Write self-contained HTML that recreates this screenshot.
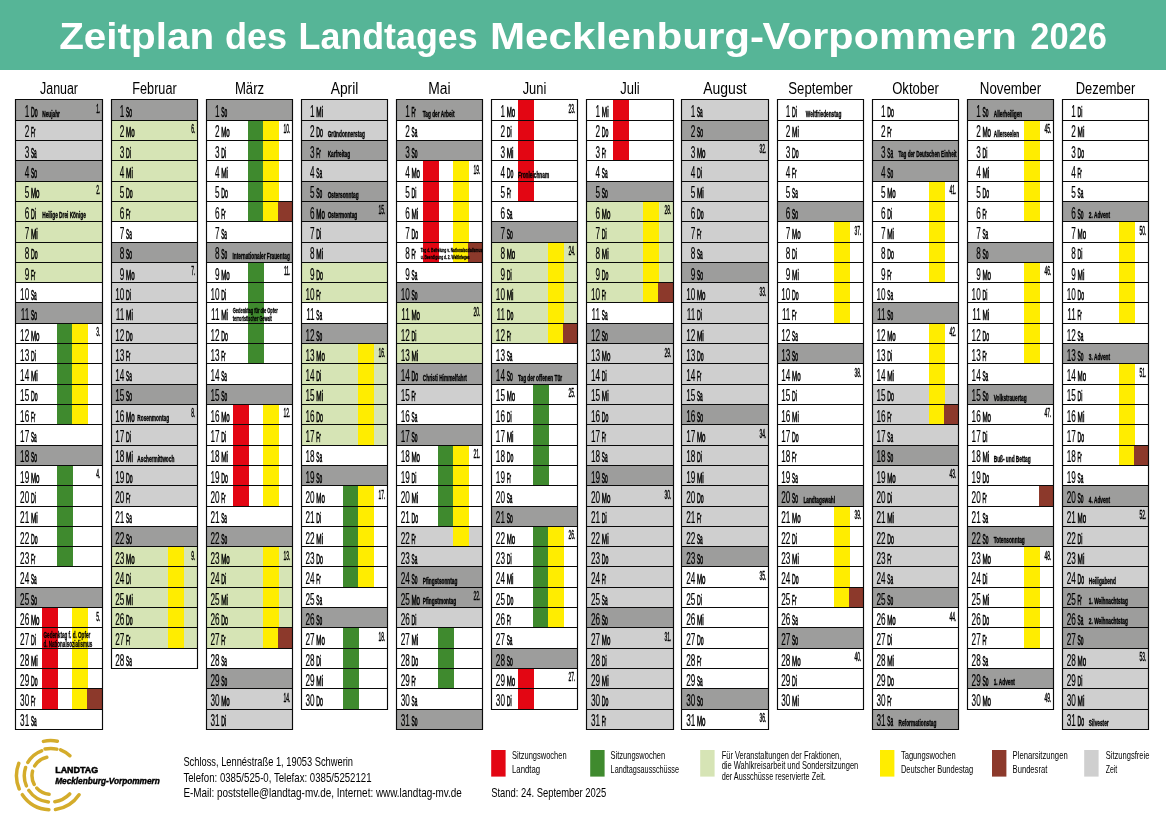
<!DOCTYPE html>
<html lang="de"><head><meta charset="utf-8"><title>Zeitplan des Landtages Mecklenburg-Vorpommern 2026</title>
<style>html,body{margin:0;padding:0;background:#fff}.ns text{vector-effect:non-scaling-stroke}body{width:1166px;height:827px;overflow:hidden}</style></head>
<body>
<svg width="1166" height="827" viewBox="0 0 1166 827" style="display:block;font-family:'Liberation Sans',sans-serif">
<rect x="0" y="0" width="1166" height="827" fill="#fff"/>
<rect x="0" y="0" width="1166" height="70" fill="#56b597"/>
<text y="49" font-size="36" font-weight="bold" fill="#fff"><tspan x="59.2" textLength="154.9" lengthAdjust="spacingAndGlyphs">Zeitplan</tspan> <tspan x="225.0" textLength="62.1" lengthAdjust="spacingAndGlyphs">des</tspan> <tspan x="298.6" textLength="179.0" lengthAdjust="spacingAndGlyphs">Landtages</tspan> <tspan x="490.0" textLength="274.1" lengthAdjust="spacingAndGlyphs">Mecklenburg-</tspan><tspan x="762.5" textLength="254.3" lengthAdjust="spacingAndGlyphs">Vorpommern</tspan> <tspan x="1030.3" textLength="76.6" lengthAdjust="spacingAndGlyphs">2026</tspan></text>
<text x="40.00" y="94" font-size="16" textLength="38.0" lengthAdjust="spacingAndGlyphs">Januar</text>
<rect x="15.5" y="99.5" width="87.0" height="21.0" fill="#9d9d9c"/>
<rect x="15.5" y="120.5" width="87.0" height="20.0" fill="#cfcfcf"/>
<rect x="15.5" y="140.5" width="87.0" height="20.0" fill="#cfcfcf"/>
<rect x="15.5" y="160.5" width="87.0" height="21.0" fill="#9d9d9c"/>
<rect x="15.5" y="181.5" width="87.0" height="20.0" fill="#d6e4b5"/>
<rect x="15.5" y="201.5" width="87.0" height="20.0" fill="#d6e4b5"/>
<rect x="15.5" y="221.5" width="87.0" height="21.0" fill="#d6e4b5"/>
<rect x="15.5" y="242.5" width="87.0" height="20.0" fill="#d6e4b5"/>
<rect x="15.5" y="262.5" width="87.0" height="20.0" fill="#d6e4b5"/>
<rect x="15.5" y="302.5" width="87.0" height="21.0" fill="#9d9d9c"/>
<rect x="57" y="323.5" width="16" height="20.0" fill="#3f8a2e"/>
<rect x="72" y="323.5" width="16" height="20.0" fill="#ffed00"/>
<rect x="57" y="343.5" width="16" height="20.0" fill="#3f8a2e"/>
<rect x="72" y="343.5" width="16" height="20.0" fill="#ffed00"/>
<rect x="57" y="363.5" width="16" height="21.0" fill="#3f8a2e"/>
<rect x="72" y="363.5" width="16" height="21.0" fill="#ffed00"/>
<rect x="57" y="384.5" width="16" height="20.0" fill="#3f8a2e"/>
<rect x="72" y="384.5" width="16" height="20.0" fill="#ffed00"/>
<rect x="57" y="404.5" width="16" height="20.0" fill="#3f8a2e"/>
<rect x="72" y="404.5" width="16" height="20.0" fill="#ffed00"/>
<rect x="15.5" y="445.5" width="87.0" height="20.0" fill="#9d9d9c"/>
<rect x="57" y="465.5" width="16" height="20.0" fill="#3f8a2e"/>
<rect x="57" y="485.5" width="16" height="21.0" fill="#3f8a2e"/>
<rect x="57" y="506.5" width="16" height="20.0" fill="#3f8a2e"/>
<rect x="57" y="526.5" width="16" height="20.0" fill="#3f8a2e"/>
<rect x="57" y="546.5" width="16" height="20.0" fill="#3f8a2e"/>
<rect x="15.5" y="587.5" width="87.0" height="20.0" fill="#9d9d9c"/>
<rect x="42" y="607.5" width="16" height="20.0" fill="#e30613"/>
<rect x="72" y="607.5" width="16" height="20.0" fill="#ffed00"/>
<rect x="42" y="627.5" width="16" height="21.0" fill="#e30613"/>
<rect x="72" y="627.5" width="16" height="21.0" fill="#ffed00"/>
<rect x="42" y="648.5" width="16" height="20.0" fill="#e30613"/>
<rect x="72" y="648.5" width="16" height="20.0" fill="#ffed00"/>
<rect x="42" y="668.5" width="16" height="20.0" fill="#e30613"/>
<rect x="72" y="668.5" width="16" height="20.0" fill="#ffed00"/>
<rect x="42" y="688.5" width="16" height="21.0" fill="#e30613"/>
<rect x="72" y="688.5" width="16" height="21.0" fill="#ffed00"/>
<rect x="87" y="688.5" width="15.5" height="21.0" fill="#8c392b"/>
<path d="M15.0 99.5H103.0M15.0 120.5H103.0M15.0 140.5H103.0M15.0 160.5H103.0M15.0 181.5H103.0M15.0 201.5H103.0M15.0 221.5H103.0M15.0 242.5H103.0M15.0 262.5H103.0M15.0 282.5H103.0M15.0 302.5H103.0M15.0 323.5H103.0M15.0 343.5H103.0M15.0 363.5H103.0M15.0 384.5H103.0M15.0 404.5H103.0M15.0 424.5H103.0M15.0 445.5H103.0M15.0 465.5H103.0M15.0 485.5H103.0M15.0 506.5H103.0M15.0 526.5H103.0M15.0 546.5H103.0M15.0 566.5H103.0M15.0 587.5H103.0M15.0 607.5H103.0M15.0 627.5H103.0M15.0 648.5H103.0M15.0 668.5H103.0M15.0 688.5H103.0M15.0 709.5H103.0M15.0 729.5H103.0M15.5 99.0V730.0M102.5 99.0V730.0" stroke="#0a0a0a" stroke-width="1.15" fill="none"/>
<text x="132.30" y="94" font-size="16" textLength="44.4" lengthAdjust="spacingAndGlyphs">Februar</text>
<rect x="111.5" y="99.5" width="86.0" height="21.0" fill="#9d9d9c"/>
<rect x="111.5" y="120.5" width="86.0" height="20.0" fill="#d6e4b5"/>
<rect x="111.5" y="140.5" width="86.0" height="20.0" fill="#d6e4b5"/>
<rect x="111.5" y="160.5" width="86.0" height="21.0" fill="#d6e4b5"/>
<rect x="111.5" y="181.5" width="86.0" height="20.0" fill="#d6e4b5"/>
<rect x="111.5" y="201.5" width="86.0" height="20.0" fill="#d6e4b5"/>
<rect x="111.5" y="242.5" width="86.0" height="20.0" fill="#9d9d9c"/>
<rect x="111.5" y="262.5" width="86.0" height="20.0" fill="#cfcfcf"/>
<rect x="111.5" y="282.5" width="86.0" height="20.0" fill="#cfcfcf"/>
<rect x="111.5" y="302.5" width="86.0" height="21.0" fill="#cfcfcf"/>
<rect x="111.5" y="323.5" width="86.0" height="20.0" fill="#cfcfcf"/>
<rect x="111.5" y="343.5" width="86.0" height="20.0" fill="#cfcfcf"/>
<rect x="111.5" y="363.5" width="86.0" height="21.0" fill="#cfcfcf"/>
<rect x="111.5" y="384.5" width="86.0" height="20.0" fill="#9d9d9c"/>
<rect x="111.5" y="404.5" width="86.0" height="20.0" fill="#cfcfcf"/>
<rect x="111.5" y="424.5" width="86.0" height="21.0" fill="#cfcfcf"/>
<rect x="111.5" y="445.5" width="86.0" height="20.0" fill="#cfcfcf"/>
<rect x="111.5" y="465.5" width="86.0" height="20.0" fill="#cfcfcf"/>
<rect x="111.5" y="485.5" width="86.0" height="21.0" fill="#cfcfcf"/>
<rect x="111.5" y="526.5" width="86.0" height="20.0" fill="#9d9d9c"/>
<rect x="111.5" y="546.5" width="86.0" height="20.0" fill="#d6e4b5"/>
<rect x="168" y="546.5" width="16" height="20.0" fill="#ffed00"/>
<rect x="111.5" y="566.5" width="86.0" height="21.0" fill="#d6e4b5"/>
<rect x="168" y="566.5" width="16" height="21.0" fill="#ffed00"/>
<rect x="111.5" y="587.5" width="86.0" height="20.0" fill="#d6e4b5"/>
<rect x="168" y="587.5" width="16" height="20.0" fill="#ffed00"/>
<rect x="111.5" y="607.5" width="86.0" height="20.0" fill="#d6e4b5"/>
<rect x="168" y="607.5" width="16" height="20.0" fill="#ffed00"/>
<rect x="111.5" y="627.5" width="86.0" height="21.0" fill="#d6e4b5"/>
<rect x="168" y="627.5" width="16" height="21.0" fill="#ffed00"/>
<path d="M111.0 99.5H198.0M111.0 120.5H198.0M111.0 140.5H198.0M111.0 160.5H198.0M111.0 181.5H198.0M111.0 201.5H198.0M111.0 221.5H198.0M111.0 242.5H198.0M111.0 262.5H198.0M111.0 282.5H198.0M111.0 302.5H198.0M111.0 323.5H198.0M111.0 343.5H198.0M111.0 363.5H198.0M111.0 384.5H198.0M111.0 404.5H198.0M111.0 424.5H198.0M111.0 445.5H198.0M111.0 465.5H198.0M111.0 485.5H198.0M111.0 506.5H198.0M111.0 526.5H198.0M111.0 546.5H198.0M111.0 566.5H198.0M111.0 587.5H198.0M111.0 607.5H198.0M111.0 627.5H198.0M111.0 648.5H198.0M111.0 668.5H198.0M111.5 99.0V669.0M197.5 99.0V669.0" stroke="#0a0a0a" stroke-width="1.15" fill="none"/>
<text x="234.90" y="94" font-size="16" textLength="29.2" lengthAdjust="spacingAndGlyphs">März</text>
<rect x="206.5" y="99.5" width="86.0" height="21.0" fill="#9d9d9c"/>
<rect x="248" y="120.5" width="16" height="20.0" fill="#3f8a2e"/>
<rect x="263" y="120.5" width="16" height="20.0" fill="#ffed00"/>
<rect x="248" y="140.5" width="16" height="20.0" fill="#3f8a2e"/>
<rect x="263" y="140.5" width="16" height="20.0" fill="#ffed00"/>
<rect x="248" y="160.5" width="16" height="21.0" fill="#3f8a2e"/>
<rect x="263" y="160.5" width="16" height="21.0" fill="#ffed00"/>
<rect x="248" y="181.5" width="16" height="20.0" fill="#3f8a2e"/>
<rect x="263" y="181.5" width="16" height="20.0" fill="#ffed00"/>
<rect x="248" y="201.5" width="16" height="20.0" fill="#3f8a2e"/>
<rect x="263" y="201.5" width="16" height="20.0" fill="#ffed00"/>
<rect x="278" y="201.5" width="14.5" height="20.0" fill="#8c392b"/>
<rect x="206.5" y="242.5" width="86.0" height="20.0" fill="#9d9d9c"/>
<rect x="248" y="262.5" width="16" height="20.0" fill="#3f8a2e"/>
<rect x="248" y="282.5" width="16" height="20.0" fill="#3f8a2e"/>
<rect x="248" y="302.5" width="16" height="21.0" fill="#3f8a2e"/>
<rect x="248" y="323.5" width="16" height="20.0" fill="#3f8a2e"/>
<rect x="248" y="343.5" width="16" height="20.0" fill="#3f8a2e"/>
<rect x="206.5" y="384.5" width="86.0" height="20.0" fill="#9d9d9c"/>
<rect x="233" y="404.5" width="16" height="20.0" fill="#e30613"/>
<rect x="263" y="404.5" width="16" height="20.0" fill="#ffed00"/>
<rect x="233" y="424.5" width="16" height="21.0" fill="#e30613"/>
<rect x="263" y="424.5" width="16" height="21.0" fill="#ffed00"/>
<rect x="233" y="445.5" width="16" height="20.0" fill="#e30613"/>
<rect x="263" y="445.5" width="16" height="20.0" fill="#ffed00"/>
<rect x="233" y="465.5" width="16" height="20.0" fill="#e30613"/>
<rect x="263" y="465.5" width="16" height="20.0" fill="#ffed00"/>
<rect x="233" y="485.5" width="16" height="21.0" fill="#e30613"/>
<rect x="263" y="485.5" width="16" height="21.0" fill="#ffed00"/>
<rect x="206.5" y="526.5" width="86.0" height="20.0" fill="#9d9d9c"/>
<rect x="206.5" y="546.5" width="86.0" height="20.0" fill="#d6e4b5"/>
<rect x="263" y="546.5" width="16" height="20.0" fill="#ffed00"/>
<rect x="206.5" y="566.5" width="86.0" height="21.0" fill="#d6e4b5"/>
<rect x="263" y="566.5" width="16" height="21.0" fill="#ffed00"/>
<rect x="206.5" y="587.5" width="86.0" height="20.0" fill="#d6e4b5"/>
<rect x="263" y="587.5" width="16" height="20.0" fill="#ffed00"/>
<rect x="206.5" y="607.5" width="86.0" height="20.0" fill="#d6e4b5"/>
<rect x="263" y="607.5" width="16" height="20.0" fill="#ffed00"/>
<rect x="206.5" y="627.5" width="86.0" height="21.0" fill="#d6e4b5"/>
<rect x="263" y="627.5" width="16" height="21.0" fill="#ffed00"/>
<rect x="278" y="627.5" width="14.5" height="21.0" fill="#8c392b"/>
<rect x="206.5" y="668.5" width="86.0" height="20.0" fill="#9d9d9c"/>
<rect x="206.5" y="688.5" width="86.0" height="21.0" fill="#cfcfcf"/>
<rect x="206.5" y="709.5" width="86.0" height="20.0" fill="#cfcfcf"/>
<path d="M206.0 99.5H293.0M206.0 120.5H293.0M206.0 140.5H293.0M206.0 160.5H293.0M206.0 181.5H293.0M206.0 201.5H293.0M206.0 221.5H293.0M206.0 242.5H293.0M206.0 262.5H293.0M206.0 282.5H293.0M206.0 302.5H293.0M206.0 323.5H293.0M206.0 343.5H293.0M206.0 363.5H293.0M206.0 384.5H293.0M206.0 404.5H293.0M206.0 424.5H293.0M206.0 445.5H293.0M206.0 465.5H293.0M206.0 485.5H293.0M206.0 506.5H293.0M206.0 526.5H293.0M206.0 546.5H293.0M206.0 566.5H293.0M206.0 587.5H293.0M206.0 607.5H293.0M206.0 627.5H293.0M206.0 648.5H293.0M206.0 668.5H293.0M206.0 688.5H293.0M206.0 709.5H293.0M206.0 729.5H293.0M206.5 99.0V730.0M292.5 99.0V730.0" stroke="#0a0a0a" stroke-width="1.15" fill="none"/>
<text x="330.70" y="94" font-size="16" textLength="27.6" lengthAdjust="spacingAndGlyphs">April</text>
<rect x="301.5" y="99.5" width="86.0" height="21.0" fill="#cfcfcf"/>
<rect x="301.5" y="120.5" width="86.0" height="20.0" fill="#cfcfcf"/>
<rect x="301.5" y="140.5" width="86.0" height="20.0" fill="#9d9d9c"/>
<rect x="301.5" y="160.5" width="86.0" height="21.0" fill="#cfcfcf"/>
<rect x="301.5" y="181.5" width="86.0" height="20.0" fill="#9d9d9c"/>
<rect x="301.5" y="201.5" width="86.0" height="20.0" fill="#9d9d9c"/>
<rect x="301.5" y="221.5" width="86.0" height="21.0" fill="#cfcfcf"/>
<rect x="301.5" y="242.5" width="86.0" height="20.0" fill="#cfcfcf"/>
<rect x="301.5" y="262.5" width="86.0" height="20.0" fill="#d6e4b5"/>
<rect x="301.5" y="282.5" width="86.0" height="20.0" fill="#d6e4b5"/>
<rect x="301.5" y="323.5" width="86.0" height="20.0" fill="#9d9d9c"/>
<rect x="301.5" y="343.5" width="86.0" height="20.0" fill="#d6e4b5"/>
<rect x="358" y="343.5" width="16" height="20.0" fill="#ffed00"/>
<rect x="301.5" y="363.5" width="86.0" height="21.0" fill="#d6e4b5"/>
<rect x="358" y="363.5" width="16" height="21.0" fill="#ffed00"/>
<rect x="301.5" y="384.5" width="86.0" height="20.0" fill="#d6e4b5"/>
<rect x="358" y="384.5" width="16" height="20.0" fill="#ffed00"/>
<rect x="301.5" y="404.5" width="86.0" height="20.0" fill="#d6e4b5"/>
<rect x="358" y="404.5" width="16" height="20.0" fill="#ffed00"/>
<rect x="301.5" y="424.5" width="86.0" height="21.0" fill="#d6e4b5"/>
<rect x="358" y="424.5" width="16" height="21.0" fill="#ffed00"/>
<rect x="301.5" y="465.5" width="86.0" height="20.0" fill="#9d9d9c"/>
<rect x="343" y="485.5" width="16" height="21.0" fill="#3f8a2e"/>
<rect x="358" y="485.5" width="16" height="21.0" fill="#ffed00"/>
<rect x="343" y="506.5" width="16" height="20.0" fill="#3f8a2e"/>
<rect x="358" y="506.5" width="16" height="20.0" fill="#ffed00"/>
<rect x="343" y="526.5" width="16" height="20.0" fill="#3f8a2e"/>
<rect x="358" y="526.5" width="16" height="20.0" fill="#ffed00"/>
<rect x="343" y="546.5" width="16" height="20.0" fill="#3f8a2e"/>
<rect x="358" y="546.5" width="16" height="20.0" fill="#ffed00"/>
<rect x="343" y="566.5" width="16" height="21.0" fill="#3f8a2e"/>
<rect x="358" y="566.5" width="16" height="21.0" fill="#ffed00"/>
<rect x="301.5" y="607.5" width="86.0" height="20.0" fill="#9d9d9c"/>
<rect x="343" y="627.5" width="16" height="21.0" fill="#3f8a2e"/>
<rect x="343" y="648.5" width="16" height="20.0" fill="#3f8a2e"/>
<rect x="343" y="668.5" width="16" height="20.0" fill="#3f8a2e"/>
<rect x="343" y="688.5" width="16" height="21.0" fill="#3f8a2e"/>
<path d="M301.0 99.5H388.0M301.0 120.5H388.0M301.0 140.5H388.0M301.0 160.5H388.0M301.0 181.5H388.0M301.0 201.5H388.0M301.0 221.5H388.0M301.0 242.5H388.0M301.0 262.5H388.0M301.0 282.5H388.0M301.0 302.5H388.0M301.0 323.5H388.0M301.0 343.5H388.0M301.0 363.5H388.0M301.0 384.5H388.0M301.0 404.5H388.0M301.0 424.5H388.0M301.0 445.5H388.0M301.0 465.5H388.0M301.0 485.5H388.0M301.0 506.5H388.0M301.0 526.5H388.0M301.0 546.5H388.0M301.0 566.5H388.0M301.0 587.5H388.0M301.0 607.5H388.0M301.0 627.5H388.0M301.0 648.5H388.0M301.0 668.5H388.0M301.0 688.5H388.0M301.0 709.5H388.0M301.5 99.0V710.0M387.5 99.0V710.0" stroke="#0a0a0a" stroke-width="1.15" fill="none"/>
<text x="428.35" y="94" font-size="16" textLength="22.3" lengthAdjust="spacingAndGlyphs">Mai</text>
<rect x="396.5" y="99.5" width="86.0" height="21.0" fill="#9d9d9c"/>
<rect x="396.5" y="140.5" width="86.0" height="20.0" fill="#9d9d9c"/>
<rect x="423" y="160.5" width="16" height="21.0" fill="#e30613"/>
<rect x="453" y="160.5" width="16" height="21.0" fill="#ffed00"/>
<rect x="423" y="181.5" width="16" height="20.0" fill="#e30613"/>
<rect x="453" y="181.5" width="16" height="20.0" fill="#ffed00"/>
<rect x="423" y="201.5" width="16" height="20.0" fill="#e30613"/>
<rect x="453" y="201.5" width="16" height="20.0" fill="#ffed00"/>
<rect x="423" y="221.5" width="16" height="21.0" fill="#e30613"/>
<rect x="453" y="221.5" width="16" height="21.0" fill="#ffed00"/>
<rect x="423" y="242.5" width="16" height="20.0" fill="#e30613"/>
<rect x="453" y="242.5" width="16" height="20.0" fill="#ffed00"/>
<rect x="468" y="242.5" width="14.5" height="20.0" fill="#8c392b"/>
<rect x="396.5" y="282.5" width="86.0" height="20.0" fill="#9d9d9c"/>
<rect x="396.5" y="302.5" width="86.0" height="21.0" fill="#d6e4b5"/>
<rect x="396.5" y="323.5" width="86.0" height="20.0" fill="#d6e4b5"/>
<rect x="396.5" y="343.5" width="86.0" height="20.0" fill="#d6e4b5"/>
<rect x="396.5" y="363.5" width="86.0" height="21.0" fill="#9d9d9c"/>
<rect x="396.5" y="384.5" width="86.0" height="20.0" fill="#cfcfcf"/>
<rect x="396.5" y="424.5" width="86.0" height="21.0" fill="#9d9d9c"/>
<rect x="438" y="445.5" width="16" height="20.0" fill="#3f8a2e"/>
<rect x="453" y="445.5" width="16" height="20.0" fill="#ffed00"/>
<rect x="438" y="465.5" width="16" height="20.0" fill="#3f8a2e"/>
<rect x="453" y="465.5" width="16" height="20.0" fill="#ffed00"/>
<rect x="438" y="485.5" width="16" height="21.0" fill="#3f8a2e"/>
<rect x="453" y="485.5" width="16" height="21.0" fill="#ffed00"/>
<rect x="438" y="506.5" width="16" height="20.0" fill="#3f8a2e"/>
<rect x="453" y="506.5" width="16" height="20.0" fill="#ffed00"/>
<rect x="396.5" y="526.5" width="86.0" height="20.0" fill="#cfcfcf"/>
<rect x="453" y="526.5" width="16" height="20.0" fill="#ffed00"/>
<rect x="396.5" y="546.5" width="86.0" height="20.0" fill="#cfcfcf"/>
<rect x="396.5" y="566.5" width="86.0" height="21.0" fill="#9d9d9c"/>
<rect x="396.5" y="587.5" width="86.0" height="20.0" fill="#9d9d9c"/>
<rect x="396.5" y="607.5" width="86.0" height="20.0" fill="#cfcfcf"/>
<rect x="438" y="627.5" width="16" height="21.0" fill="#3f8a2e"/>
<rect x="438" y="648.5" width="16" height="20.0" fill="#3f8a2e"/>
<rect x="438" y="668.5" width="16" height="20.0" fill="#3f8a2e"/>
<rect x="396.5" y="709.5" width="86.0" height="20.0" fill="#9d9d9c"/>
<path d="M396.0 99.5H483.0M396.0 120.5H483.0M396.0 140.5H483.0M396.0 160.5H483.0M396.0 181.5H483.0M396.0 201.5H483.0M396.0 221.5H483.0M396.0 242.5H483.0M396.0 262.5H483.0M396.0 282.5H483.0M396.0 302.5H483.0M396.0 323.5H483.0M396.0 343.5H483.0M396.0 363.5H483.0M396.0 384.5H483.0M396.0 404.5H483.0M396.0 424.5H483.0M396.0 445.5H483.0M396.0 465.5H483.0M396.0 485.5H483.0M396.0 506.5H483.0M396.0 526.5H483.0M396.0 546.5H483.0M396.0 566.5H483.0M396.0 587.5H483.0M396.0 607.5H483.0M396.0 627.5H483.0M396.0 648.5H483.0M396.0 668.5H483.0M396.0 688.5H483.0M396.0 709.5H483.0M396.0 729.5H483.0M396.5 99.0V730.0M482.5 99.0V730.0" stroke="#0a0a0a" stroke-width="1.15" fill="none"/>
<text x="522.70" y="94" font-size="16" textLength="23.6" lengthAdjust="spacingAndGlyphs">Juni</text>
<rect x="518" y="99.5" width="16" height="21.0" fill="#e30613"/>
<rect x="518" y="120.5" width="16" height="20.0" fill="#e30613"/>
<rect x="518" y="140.5" width="16" height="20.0" fill="#e30613"/>
<rect x="518" y="160.5" width="16" height="21.0" fill="#e30613"/>
<rect x="518" y="181.5" width="16" height="20.0" fill="#e30613"/>
<rect x="491.5" y="221.5" width="86.0" height="21.0" fill="#9d9d9c"/>
<rect x="491.5" y="242.5" width="86.0" height="20.0" fill="#d6e4b5"/>
<rect x="548" y="242.5" width="16" height="20.0" fill="#ffed00"/>
<rect x="491.5" y="262.5" width="86.0" height="20.0" fill="#d6e4b5"/>
<rect x="548" y="262.5" width="16" height="20.0" fill="#ffed00"/>
<rect x="491.5" y="282.5" width="86.0" height="20.0" fill="#d6e4b5"/>
<rect x="548" y="282.5" width="16" height="20.0" fill="#ffed00"/>
<rect x="491.5" y="302.5" width="86.0" height="21.0" fill="#d6e4b5"/>
<rect x="548" y="302.5" width="16" height="21.0" fill="#ffed00"/>
<rect x="491.5" y="323.5" width="86.0" height="20.0" fill="#d6e4b5"/>
<rect x="548" y="323.5" width="16" height="20.0" fill="#ffed00"/>
<rect x="563" y="323.5" width="14.5" height="20.0" fill="#8c392b"/>
<rect x="491.5" y="363.5" width="86.0" height="21.0" fill="#9d9d9c"/>
<rect x="533" y="384.5" width="16" height="20.0" fill="#3f8a2e"/>
<rect x="533" y="404.5" width="16" height="20.0" fill="#3f8a2e"/>
<rect x="533" y="424.5" width="16" height="21.0" fill="#3f8a2e"/>
<rect x="533" y="445.5" width="16" height="20.0" fill="#3f8a2e"/>
<rect x="533" y="465.5" width="16" height="20.0" fill="#3f8a2e"/>
<rect x="491.5" y="506.5" width="86.0" height="20.0" fill="#9d9d9c"/>
<rect x="533" y="526.5" width="16" height="20.0" fill="#3f8a2e"/>
<rect x="548" y="526.5" width="16" height="20.0" fill="#ffed00"/>
<rect x="533" y="546.5" width="16" height="20.0" fill="#3f8a2e"/>
<rect x="548" y="546.5" width="16" height="20.0" fill="#ffed00"/>
<rect x="533" y="566.5" width="16" height="21.0" fill="#3f8a2e"/>
<rect x="548" y="566.5" width="16" height="21.0" fill="#ffed00"/>
<rect x="533" y="587.5" width="16" height="20.0" fill="#3f8a2e"/>
<rect x="548" y="587.5" width="16" height="20.0" fill="#ffed00"/>
<rect x="533" y="607.5" width="16" height="20.0" fill="#3f8a2e"/>
<rect x="548" y="607.5" width="16" height="20.0" fill="#ffed00"/>
<rect x="491.5" y="648.5" width="86.0" height="20.0" fill="#9d9d9c"/>
<rect x="518" y="668.5" width="16" height="20.0" fill="#e30613"/>
<rect x="518" y="688.5" width="16" height="21.0" fill="#e30613"/>
<path d="M491.0 99.5H578.0M491.0 120.5H578.0M491.0 140.5H578.0M491.0 160.5H578.0M491.0 181.5H578.0M491.0 201.5H578.0M491.0 221.5H578.0M491.0 242.5H578.0M491.0 262.5H578.0M491.0 282.5H578.0M491.0 302.5H578.0M491.0 323.5H578.0M491.0 343.5H578.0M491.0 363.5H578.0M491.0 384.5H578.0M491.0 404.5H578.0M491.0 424.5H578.0M491.0 445.5H578.0M491.0 465.5H578.0M491.0 485.5H578.0M491.0 506.5H578.0M491.0 526.5H578.0M491.0 546.5H578.0M491.0 566.5H578.0M491.0 587.5H578.0M491.0 607.5H578.0M491.0 627.5H578.0M491.0 648.5H578.0M491.0 668.5H578.0M491.0 688.5H578.0M491.0 709.5H578.0M491.5 99.0V710.0M577.5 99.0V710.0" stroke="#0a0a0a" stroke-width="1.15" fill="none"/>
<text x="620.25" y="94" font-size="16" textLength="19.5" lengthAdjust="spacingAndGlyphs">Juli</text>
<rect x="613" y="99.5" width="16" height="21.0" fill="#e30613"/>
<rect x="613" y="120.5" width="16" height="20.0" fill="#e30613"/>
<rect x="613" y="140.5" width="16" height="20.0" fill="#e30613"/>
<rect x="586.5" y="181.5" width="87.0" height="20.0" fill="#9d9d9c"/>
<rect x="586.5" y="201.5" width="87.0" height="20.0" fill="#d6e4b5"/>
<rect x="643" y="201.5" width="16" height="20.0" fill="#ffed00"/>
<rect x="586.5" y="221.5" width="87.0" height="21.0" fill="#d6e4b5"/>
<rect x="643" y="221.5" width="16" height="21.0" fill="#ffed00"/>
<rect x="586.5" y="242.5" width="87.0" height="20.0" fill="#d6e4b5"/>
<rect x="643" y="242.5" width="16" height="20.0" fill="#ffed00"/>
<rect x="586.5" y="262.5" width="87.0" height="20.0" fill="#d6e4b5"/>
<rect x="643" y="262.5" width="16" height="20.0" fill="#ffed00"/>
<rect x="586.5" y="282.5" width="87.0" height="20.0" fill="#d6e4b5"/>
<rect x="643" y="282.5" width="16" height="20.0" fill="#ffed00"/>
<rect x="658" y="282.5" width="15.5" height="20.0" fill="#8c392b"/>
<rect x="586.5" y="323.5" width="87.0" height="20.0" fill="#9d9d9c"/>
<rect x="586.5" y="343.5" width="87.0" height="20.0" fill="#cfcfcf"/>
<rect x="586.5" y="363.5" width="87.0" height="21.0" fill="#cfcfcf"/>
<rect x="586.5" y="384.5" width="87.0" height="20.0" fill="#cfcfcf"/>
<rect x="586.5" y="404.5" width="87.0" height="20.0" fill="#cfcfcf"/>
<rect x="586.5" y="424.5" width="87.0" height="21.0" fill="#cfcfcf"/>
<rect x="586.5" y="445.5" width="87.0" height="20.0" fill="#cfcfcf"/>
<rect x="586.5" y="465.5" width="87.0" height="20.0" fill="#9d9d9c"/>
<rect x="586.5" y="485.5" width="87.0" height="21.0" fill="#cfcfcf"/>
<rect x="586.5" y="506.5" width="87.0" height="20.0" fill="#cfcfcf"/>
<rect x="586.5" y="526.5" width="87.0" height="20.0" fill="#cfcfcf"/>
<rect x="586.5" y="546.5" width="87.0" height="20.0" fill="#cfcfcf"/>
<rect x="586.5" y="566.5" width="87.0" height="21.0" fill="#cfcfcf"/>
<rect x="586.5" y="587.5" width="87.0" height="20.0" fill="#cfcfcf"/>
<rect x="586.5" y="607.5" width="87.0" height="20.0" fill="#9d9d9c"/>
<rect x="586.5" y="627.5" width="87.0" height="21.0" fill="#cfcfcf"/>
<rect x="586.5" y="648.5" width="87.0" height="20.0" fill="#cfcfcf"/>
<rect x="586.5" y="668.5" width="87.0" height="20.0" fill="#cfcfcf"/>
<rect x="586.5" y="688.5" width="87.0" height="21.0" fill="#cfcfcf"/>
<rect x="586.5" y="709.5" width="87.0" height="20.0" fill="#cfcfcf"/>
<path d="M586.0 99.5H674.0M586.0 120.5H674.0M586.0 140.5H674.0M586.0 160.5H674.0M586.0 181.5H674.0M586.0 201.5H674.0M586.0 221.5H674.0M586.0 242.5H674.0M586.0 262.5H674.0M586.0 282.5H674.0M586.0 302.5H674.0M586.0 323.5H674.0M586.0 343.5H674.0M586.0 363.5H674.0M586.0 384.5H674.0M586.0 404.5H674.0M586.0 424.5H674.0M586.0 445.5H674.0M586.0 465.5H674.0M586.0 485.5H674.0M586.0 506.5H674.0M586.0 526.5H674.0M586.0 546.5H674.0M586.0 566.5H674.0M586.0 587.5H674.0M586.0 607.5H674.0M586.0 627.5H674.0M586.0 648.5H674.0M586.0 668.5H674.0M586.0 688.5H674.0M586.0 709.5H674.0M586.0 729.5H674.0M586.5 99.0V730.0M673.5 99.0V730.0" stroke="#0a0a0a" stroke-width="1.15" fill="none"/>
<text x="703.25" y="94" font-size="16" textLength="43.5" lengthAdjust="spacingAndGlyphs">August</text>
<rect x="681.5" y="99.5" width="87.0" height="21.0" fill="#cfcfcf"/>
<rect x="681.5" y="120.5" width="87.0" height="20.0" fill="#9d9d9c"/>
<rect x="681.5" y="140.5" width="87.0" height="20.0" fill="#cfcfcf"/>
<rect x="681.5" y="160.5" width="87.0" height="21.0" fill="#cfcfcf"/>
<rect x="681.5" y="181.5" width="87.0" height="20.0" fill="#cfcfcf"/>
<rect x="681.5" y="201.5" width="87.0" height="20.0" fill="#cfcfcf"/>
<rect x="681.5" y="221.5" width="87.0" height="21.0" fill="#cfcfcf"/>
<rect x="681.5" y="242.5" width="87.0" height="20.0" fill="#cfcfcf"/>
<rect x="681.5" y="262.5" width="87.0" height="20.0" fill="#9d9d9c"/>
<rect x="681.5" y="282.5" width="87.0" height="20.0" fill="#cfcfcf"/>
<rect x="681.5" y="302.5" width="87.0" height="21.0" fill="#cfcfcf"/>
<rect x="681.5" y="323.5" width="87.0" height="20.0" fill="#cfcfcf"/>
<rect x="681.5" y="343.5" width="87.0" height="20.0" fill="#cfcfcf"/>
<rect x="681.5" y="363.5" width="87.0" height="21.0" fill="#cfcfcf"/>
<rect x="681.5" y="384.5" width="87.0" height="20.0" fill="#cfcfcf"/>
<rect x="681.5" y="404.5" width="87.0" height="20.0" fill="#9d9d9c"/>
<rect x="681.5" y="424.5" width="87.0" height="21.0" fill="#cfcfcf"/>
<rect x="681.5" y="445.5" width="87.0" height="20.0" fill="#cfcfcf"/>
<rect x="681.5" y="465.5" width="87.0" height="20.0" fill="#cfcfcf"/>
<rect x="681.5" y="485.5" width="87.0" height="21.0" fill="#cfcfcf"/>
<rect x="681.5" y="506.5" width="87.0" height="20.0" fill="#cfcfcf"/>
<rect x="681.5" y="526.5" width="87.0" height="20.0" fill="#cfcfcf"/>
<rect x="681.5" y="546.5" width="87.0" height="20.0" fill="#9d9d9c"/>
<rect x="681.5" y="688.5" width="87.0" height="21.0" fill="#9d9d9c"/>
<path d="M681.0 99.5H769.0M681.0 120.5H769.0M681.0 140.5H769.0M681.0 160.5H769.0M681.0 181.5H769.0M681.0 201.5H769.0M681.0 221.5H769.0M681.0 242.5H769.0M681.0 262.5H769.0M681.0 282.5H769.0M681.0 302.5H769.0M681.0 323.5H769.0M681.0 343.5H769.0M681.0 363.5H769.0M681.0 384.5H769.0M681.0 404.5H769.0M681.0 424.5H769.0M681.0 445.5H769.0M681.0 465.5H769.0M681.0 485.5H769.0M681.0 506.5H769.0M681.0 526.5H769.0M681.0 546.5H769.0M681.0 566.5H769.0M681.0 587.5H769.0M681.0 607.5H769.0M681.0 627.5H769.0M681.0 648.5H769.0M681.0 668.5H769.0M681.0 688.5H769.0M681.0 709.5H769.0M681.0 729.5H769.0M681.5 99.0V730.0M768.5 99.0V730.0" stroke="#0a0a0a" stroke-width="1.15" fill="none"/>
<text x="788.25" y="94" font-size="16" textLength="64.5" lengthAdjust="spacingAndGlyphs">September</text>
<rect x="777.5" y="201.5" width="86.0" height="20.0" fill="#9d9d9c"/>
<rect x="834" y="221.5" width="16" height="21.0" fill="#ffed00"/>
<rect x="834" y="242.5" width="16" height="20.0" fill="#ffed00"/>
<rect x="834" y="262.5" width="16" height="20.0" fill="#ffed00"/>
<rect x="834" y="282.5" width="16" height="20.0" fill="#ffed00"/>
<rect x="834" y="302.5" width="16" height="21.0" fill="#ffed00"/>
<rect x="777.5" y="343.5" width="86.0" height="20.0" fill="#9d9d9c"/>
<rect x="777.5" y="485.5" width="86.0" height="21.0" fill="#9d9d9c"/>
<rect x="834" y="506.5" width="16" height="20.0" fill="#ffed00"/>
<rect x="834" y="526.5" width="16" height="20.0" fill="#ffed00"/>
<rect x="834" y="546.5" width="16" height="20.0" fill="#ffed00"/>
<rect x="834" y="566.5" width="16" height="21.0" fill="#ffed00"/>
<rect x="834" y="587.5" width="16" height="20.0" fill="#ffed00"/>
<rect x="849" y="587.5" width="14.5" height="20.0" fill="#8c392b"/>
<rect x="777.5" y="627.5" width="86.0" height="21.0" fill="#9d9d9c"/>
<path d="M777.0 99.5H864.0M777.0 120.5H864.0M777.0 140.5H864.0M777.0 160.5H864.0M777.0 181.5H864.0M777.0 201.5H864.0M777.0 221.5H864.0M777.0 242.5H864.0M777.0 262.5H864.0M777.0 282.5H864.0M777.0 302.5H864.0M777.0 323.5H864.0M777.0 343.5H864.0M777.0 363.5H864.0M777.0 384.5H864.0M777.0 404.5H864.0M777.0 424.5H864.0M777.0 445.5H864.0M777.0 465.5H864.0M777.0 485.5H864.0M777.0 506.5H864.0M777.0 526.5H864.0M777.0 546.5H864.0M777.0 566.5H864.0M777.0 587.5H864.0M777.0 607.5H864.0M777.0 627.5H864.0M777.0 648.5H864.0M777.0 668.5H864.0M777.0 688.5H864.0M777.0 709.5H864.0M777.5 99.0V710.0M863.5 99.0V710.0" stroke="#0a0a0a" stroke-width="1.15" fill="none"/>
<text x="892.15" y="94" font-size="16" textLength="46.7" lengthAdjust="spacingAndGlyphs">Oktober</text>
<rect x="872.5" y="140.5" width="86.0" height="20.0" fill="#9d9d9c"/>
<rect x="872.5" y="160.5" width="86.0" height="21.0" fill="#9d9d9c"/>
<rect x="929" y="181.5" width="16" height="20.0" fill="#ffed00"/>
<rect x="929" y="201.5" width="16" height="20.0" fill="#ffed00"/>
<rect x="929" y="221.5" width="16" height="21.0" fill="#ffed00"/>
<rect x="929" y="242.5" width="16" height="20.0" fill="#ffed00"/>
<rect x="929" y="262.5" width="16" height="20.0" fill="#ffed00"/>
<rect x="872.5" y="302.5" width="86.0" height="21.0" fill="#9d9d9c"/>
<rect x="929" y="323.5" width="16" height="20.0" fill="#ffed00"/>
<rect x="929" y="343.5" width="16" height="20.0" fill="#ffed00"/>
<rect x="929" y="363.5" width="16" height="21.0" fill="#ffed00"/>
<rect x="872.5" y="384.5" width="86.0" height="20.0" fill="#cfcfcf"/>
<rect x="929" y="384.5" width="16" height="20.0" fill="#ffed00"/>
<rect x="872.5" y="404.5" width="86.0" height="20.0" fill="#cfcfcf"/>
<rect x="929" y="404.5" width="16" height="20.0" fill="#ffed00"/>
<rect x="944" y="404.5" width="14.5" height="20.0" fill="#8c392b"/>
<rect x="872.5" y="424.5" width="86.0" height="21.0" fill="#cfcfcf"/>
<rect x="872.5" y="445.5" width="86.0" height="20.0" fill="#9d9d9c"/>
<rect x="872.5" y="465.5" width="86.0" height="20.0" fill="#cfcfcf"/>
<rect x="872.5" y="485.5" width="86.0" height="21.0" fill="#cfcfcf"/>
<rect x="872.5" y="506.5" width="86.0" height="20.0" fill="#cfcfcf"/>
<rect x="872.5" y="526.5" width="86.0" height="20.0" fill="#cfcfcf"/>
<rect x="872.5" y="546.5" width="86.0" height="20.0" fill="#cfcfcf"/>
<rect x="872.5" y="566.5" width="86.0" height="21.0" fill="#cfcfcf"/>
<rect x="872.5" y="587.5" width="86.0" height="20.0" fill="#9d9d9c"/>
<rect x="872.5" y="709.5" width="86.0" height="20.0" fill="#9d9d9c"/>
<path d="M872.0 99.5H959.0M872.0 120.5H959.0M872.0 140.5H959.0M872.0 160.5H959.0M872.0 181.5H959.0M872.0 201.5H959.0M872.0 221.5H959.0M872.0 242.5H959.0M872.0 262.5H959.0M872.0 282.5H959.0M872.0 302.5H959.0M872.0 323.5H959.0M872.0 343.5H959.0M872.0 363.5H959.0M872.0 384.5H959.0M872.0 404.5H959.0M872.0 424.5H959.0M872.0 445.5H959.0M872.0 465.5H959.0M872.0 485.5H959.0M872.0 506.5H959.0M872.0 526.5H959.0M872.0 546.5H959.0M872.0 566.5H959.0M872.0 587.5H959.0M872.0 607.5H959.0M872.0 627.5H959.0M872.0 648.5H959.0M872.0 668.5H959.0M872.0 688.5H959.0M872.0 709.5H959.0M872.0 729.5H959.0M872.5 99.0V730.0M958.5 99.0V730.0" stroke="#0a0a0a" stroke-width="1.15" fill="none"/>
<text x="979.80" y="94" font-size="16" textLength="61.4" lengthAdjust="spacingAndGlyphs">November</text>
<rect x="967.5" y="99.5" width="86.0" height="21.0" fill="#9d9d9c"/>
<rect x="1024" y="120.5" width="16" height="20.0" fill="#ffed00"/>
<rect x="1024" y="140.5" width="16" height="20.0" fill="#ffed00"/>
<rect x="1024" y="160.5" width="16" height="21.0" fill="#ffed00"/>
<rect x="1024" y="181.5" width="16" height="20.0" fill="#ffed00"/>
<rect x="1024" y="201.5" width="16" height="20.0" fill="#ffed00"/>
<rect x="967.5" y="242.5" width="86.0" height="20.0" fill="#9d9d9c"/>
<rect x="1024" y="262.5" width="16" height="20.0" fill="#ffed00"/>
<rect x="1024" y="282.5" width="16" height="20.0" fill="#ffed00"/>
<rect x="1024" y="302.5" width="16" height="21.0" fill="#ffed00"/>
<rect x="1024" y="323.5" width="16" height="20.0" fill="#ffed00"/>
<rect x="1024" y="343.5" width="16" height="20.0" fill="#ffed00"/>
<rect x="967.5" y="384.5" width="86.0" height="20.0" fill="#9d9d9c"/>
<rect x="1039" y="485.5" width="14.5" height="21.0" fill="#8c392b"/>
<rect x="967.5" y="526.5" width="86.0" height="20.0" fill="#9d9d9c"/>
<rect x="1024" y="546.5" width="16" height="20.0" fill="#ffed00"/>
<rect x="1024" y="566.5" width="16" height="21.0" fill="#ffed00"/>
<rect x="1024" y="587.5" width="16" height="20.0" fill="#ffed00"/>
<rect x="1024" y="607.5" width="16" height="20.0" fill="#ffed00"/>
<rect x="1024" y="627.5" width="16" height="21.0" fill="#ffed00"/>
<rect x="967.5" y="668.5" width="86.0" height="20.0" fill="#9d9d9c"/>
<path d="M967.0 99.5H1054.0M967.0 120.5H1054.0M967.0 140.5H1054.0M967.0 160.5H1054.0M967.0 181.5H1054.0M967.0 201.5H1054.0M967.0 221.5H1054.0M967.0 242.5H1054.0M967.0 262.5H1054.0M967.0 282.5H1054.0M967.0 302.5H1054.0M967.0 323.5H1054.0M967.0 343.5H1054.0M967.0 363.5H1054.0M967.0 384.5H1054.0M967.0 404.5H1054.0M967.0 424.5H1054.0M967.0 445.5H1054.0M967.0 465.5H1054.0M967.0 485.5H1054.0M967.0 506.5H1054.0M967.0 526.5H1054.0M967.0 546.5H1054.0M967.0 566.5H1054.0M967.0 587.5H1054.0M967.0 607.5H1054.0M967.0 627.5H1054.0M967.0 648.5H1054.0M967.0 668.5H1054.0M967.0 688.5H1054.0M967.0 709.5H1054.0M967.5 99.0V710.0M1053.5 99.0V710.0" stroke="#0a0a0a" stroke-width="1.15" fill="none"/>
<text x="1075.75" y="94" font-size="16" textLength="59.5" lengthAdjust="spacingAndGlyphs">Dezember</text>
<rect x="1062.5" y="201.5" width="86.0" height="20.0" fill="#9d9d9c"/>
<rect x="1119" y="221.5" width="16" height="21.0" fill="#ffed00"/>
<rect x="1119" y="242.5" width="16" height="20.0" fill="#ffed00"/>
<rect x="1119" y="262.5" width="16" height="20.0" fill="#ffed00"/>
<rect x="1119" y="282.5" width="16" height="20.0" fill="#ffed00"/>
<rect x="1119" y="302.5" width="16" height="21.0" fill="#ffed00"/>
<rect x="1062.5" y="343.5" width="86.0" height="20.0" fill="#9d9d9c"/>
<rect x="1119" y="363.5" width="16" height="21.0" fill="#ffed00"/>
<rect x="1119" y="384.5" width="16" height="20.0" fill="#ffed00"/>
<rect x="1119" y="404.5" width="16" height="20.0" fill="#ffed00"/>
<rect x="1119" y="424.5" width="16" height="21.0" fill="#ffed00"/>
<rect x="1119" y="445.5" width="16" height="20.0" fill="#ffed00"/>
<rect x="1134" y="445.5" width="14.5" height="20.0" fill="#8c392b"/>
<rect x="1062.5" y="485.5" width="86.0" height="21.0" fill="#9d9d9c"/>
<rect x="1062.5" y="506.5" width="86.0" height="20.0" fill="#cfcfcf"/>
<rect x="1062.5" y="526.5" width="86.0" height="20.0" fill="#cfcfcf"/>
<rect x="1062.5" y="546.5" width="86.0" height="20.0" fill="#cfcfcf"/>
<rect x="1062.5" y="566.5" width="86.0" height="21.0" fill="#cfcfcf"/>
<rect x="1062.5" y="587.5" width="86.0" height="20.0" fill="#9d9d9c"/>
<rect x="1062.5" y="607.5" width="86.0" height="20.0" fill="#9d9d9c"/>
<rect x="1062.5" y="627.5" width="86.0" height="21.0" fill="#9d9d9c"/>
<rect x="1062.5" y="648.5" width="86.0" height="20.0" fill="#cfcfcf"/>
<rect x="1062.5" y="668.5" width="86.0" height="20.0" fill="#cfcfcf"/>
<rect x="1062.5" y="688.5" width="86.0" height="21.0" fill="#cfcfcf"/>
<rect x="1062.5" y="709.5" width="86.0" height="20.0" fill="#cfcfcf"/>
<path d="M1062.0 99.5H1149.0M1062.0 120.5H1149.0M1062.0 140.5H1149.0M1062.0 160.5H1149.0M1062.0 181.5H1149.0M1062.0 201.5H1149.0M1062.0 221.5H1149.0M1062.0 242.5H1149.0M1062.0 262.5H1149.0M1062.0 282.5H1149.0M1062.0 302.5H1149.0M1062.0 323.5H1149.0M1062.0 343.5H1149.0M1062.0 363.5H1149.0M1062.0 384.5H1149.0M1062.0 404.5H1149.0M1062.0 424.5H1149.0M1062.0 445.5H1149.0M1062.0 465.5H1149.0M1062.0 485.5H1149.0M1062.0 506.5H1149.0M1062.0 526.5H1149.0M1062.0 546.5H1149.0M1062.0 566.5H1149.0M1062.0 587.5H1149.0M1062.0 607.5H1149.0M1062.0 627.5H1149.0M1062.0 648.5H1149.0M1062.0 668.5H1149.0M1062.0 688.5H1149.0M1062.0 709.5H1149.0M1062.0 729.5H1149.0M1062.5 99.0V730.0M1148.5 99.0V730.0" stroke="#0a0a0a" stroke-width="1.15" fill="none"/>
<g class="ns" stroke="#000" stroke-width="0.15">
<text transform="translate(29.20 117.15) scale(0.5 1)" font-size="16.4" text-anchor="end">1</text>
<text transform="translate(29.20 137.46) scale(0.5 1)" font-size="16.4" text-anchor="end">2</text>
<text transform="translate(29.20 157.77) scale(0.5 1)" font-size="16.4" text-anchor="end">3</text>
<text transform="translate(29.20 178.08) scale(0.5 1)" font-size="16.4" text-anchor="end">4</text>
<text transform="translate(29.20 198.39) scale(0.5 1)" font-size="16.4" text-anchor="end">5</text>
<text transform="translate(29.20 218.70) scale(0.5 1)" font-size="16.4" text-anchor="end">6</text>
<text transform="translate(29.20 239.01) scale(0.5 1)" font-size="16.4" text-anchor="end">7</text>
<text transform="translate(29.20 259.32) scale(0.5 1)" font-size="16.4" text-anchor="end">8</text>
<text transform="translate(29.20 279.63) scale(0.5 1)" font-size="16.4" text-anchor="end">9</text>
<text transform="translate(29.20 299.94) scale(0.5 1)" font-size="16.4" text-anchor="end">10</text>
<text transform="translate(29.20 320.25) scale(0.5 1)" font-size="16.4" text-anchor="end">11</text>
<text transform="translate(29.20 340.56) scale(0.5 1)" font-size="16.4" text-anchor="end">12</text>
<text transform="translate(29.20 360.87) scale(0.5 1)" font-size="16.4" text-anchor="end">13</text>
<text transform="translate(29.20 381.18) scale(0.5 1)" font-size="16.4" text-anchor="end">14</text>
<text transform="translate(29.20 401.49) scale(0.5 1)" font-size="16.4" text-anchor="end">15</text>
<text transform="translate(29.20 421.80) scale(0.5 1)" font-size="16.4" text-anchor="end">16</text>
<text transform="translate(29.20 442.11) scale(0.5 1)" font-size="16.4" text-anchor="end">17</text>
<text transform="translate(29.20 462.42) scale(0.5 1)" font-size="16.4" text-anchor="end">18</text>
<text transform="translate(29.20 482.73) scale(0.5 1)" font-size="16.4" text-anchor="end">19</text>
<text transform="translate(29.20 503.04) scale(0.5 1)" font-size="16.4" text-anchor="end">20</text>
<text transform="translate(29.20 523.35) scale(0.5 1)" font-size="16.4" text-anchor="end">21</text>
<text transform="translate(29.20 543.66) scale(0.5 1)" font-size="16.4" text-anchor="end">22</text>
<text transform="translate(29.20 563.97) scale(0.5 1)" font-size="16.4" text-anchor="end">23</text>
<text transform="translate(29.20 584.28) scale(0.5 1)" font-size="16.4" text-anchor="end">24</text>
<text transform="translate(29.20 604.59) scale(0.5 1)" font-size="16.4" text-anchor="end">25</text>
<text transform="translate(29.20 624.90) scale(0.5 1)" font-size="16.4" text-anchor="end">26</text>
<text transform="translate(29.20 645.21) scale(0.5 1)" font-size="16.4" text-anchor="end">27</text>
<text transform="translate(29.20 665.52) scale(0.5 1)" font-size="16.4" text-anchor="end">28</text>
<text transform="translate(29.20 685.83) scale(0.5 1)" font-size="16.4" text-anchor="end">29</text>
<text transform="translate(29.20 706.14) scale(0.5 1)" font-size="16.4" text-anchor="end">30</text>
<text transform="translate(29.20 726.45) scale(0.5 1)" font-size="16.4" text-anchor="end">31</text>
<text transform="translate(124.35 117.15) scale(0.5 1)" font-size="16.4" text-anchor="end">1</text>
<text transform="translate(124.35 137.46) scale(0.5 1)" font-size="16.4" text-anchor="end">2</text>
<text transform="translate(124.35 157.77) scale(0.5 1)" font-size="16.4" text-anchor="end">3</text>
<text transform="translate(124.35 178.08) scale(0.5 1)" font-size="16.4" text-anchor="end">4</text>
<text transform="translate(124.35 198.39) scale(0.5 1)" font-size="16.4" text-anchor="end">5</text>
<text transform="translate(124.35 218.70) scale(0.5 1)" font-size="16.4" text-anchor="end">6</text>
<text transform="translate(124.35 239.01) scale(0.5 1)" font-size="16.4" text-anchor="end">7</text>
<text transform="translate(124.35 259.32) scale(0.5 1)" font-size="16.4" text-anchor="end">8</text>
<text transform="translate(124.35 279.63) scale(0.5 1)" font-size="16.4" text-anchor="end">9</text>
<text transform="translate(124.35 299.94) scale(0.5 1)" font-size="16.4" text-anchor="end">10</text>
<text transform="translate(124.35 320.25) scale(0.5 1)" font-size="16.4" text-anchor="end">11</text>
<text transform="translate(124.35 340.56) scale(0.5 1)" font-size="16.4" text-anchor="end">12</text>
<text transform="translate(124.35 360.87) scale(0.5 1)" font-size="16.4" text-anchor="end">13</text>
<text transform="translate(124.35 381.18) scale(0.5 1)" font-size="16.4" text-anchor="end">14</text>
<text transform="translate(124.35 401.49) scale(0.5 1)" font-size="16.4" text-anchor="end">15</text>
<text transform="translate(124.35 421.80) scale(0.5 1)" font-size="16.4" text-anchor="end">16</text>
<text transform="translate(124.35 442.11) scale(0.5 1)" font-size="16.4" text-anchor="end">17</text>
<text transform="translate(124.35 462.42) scale(0.5 1)" font-size="16.4" text-anchor="end">18</text>
<text transform="translate(124.35 482.73) scale(0.5 1)" font-size="16.4" text-anchor="end">19</text>
<text transform="translate(124.35 503.04) scale(0.5 1)" font-size="16.4" text-anchor="end">20</text>
<text transform="translate(124.35 523.35) scale(0.5 1)" font-size="16.4" text-anchor="end">21</text>
<text transform="translate(124.35 543.66) scale(0.5 1)" font-size="16.4" text-anchor="end">22</text>
<text transform="translate(124.35 563.97) scale(0.5 1)" font-size="16.4" text-anchor="end">23</text>
<text transform="translate(124.35 584.28) scale(0.5 1)" font-size="16.4" text-anchor="end">24</text>
<text transform="translate(124.35 604.59) scale(0.5 1)" font-size="16.4" text-anchor="end">25</text>
<text transform="translate(124.35 624.90) scale(0.5 1)" font-size="16.4" text-anchor="end">26</text>
<text transform="translate(124.35 645.21) scale(0.5 1)" font-size="16.4" text-anchor="end">27</text>
<text transform="translate(124.35 665.52) scale(0.5 1)" font-size="16.4" text-anchor="end">28</text>
<text transform="translate(219.50 117.15) scale(0.5 1)" font-size="16.4" text-anchor="end">1</text>
<text transform="translate(219.50 137.46) scale(0.5 1)" font-size="16.4" text-anchor="end">2</text>
<text transform="translate(219.50 157.77) scale(0.5 1)" font-size="16.4" text-anchor="end">3</text>
<text transform="translate(219.50 178.08) scale(0.5 1)" font-size="16.4" text-anchor="end">4</text>
<text transform="translate(219.50 198.39) scale(0.5 1)" font-size="16.4" text-anchor="end">5</text>
<text transform="translate(219.50 218.70) scale(0.5 1)" font-size="16.4" text-anchor="end">6</text>
<text transform="translate(219.50 239.01) scale(0.5 1)" font-size="16.4" text-anchor="end">7</text>
<text transform="translate(219.50 259.32) scale(0.5 1)" font-size="16.4" text-anchor="end">8</text>
<text transform="translate(219.50 279.63) scale(0.5 1)" font-size="16.4" text-anchor="end">9</text>
<text transform="translate(219.50 299.94) scale(0.5 1)" font-size="16.4" text-anchor="end">10</text>
<text transform="translate(219.50 320.25) scale(0.5 1)" font-size="16.4" text-anchor="end">11</text>
<text transform="translate(219.50 340.56) scale(0.5 1)" font-size="16.4" text-anchor="end">12</text>
<text transform="translate(219.50 360.87) scale(0.5 1)" font-size="16.4" text-anchor="end">13</text>
<text transform="translate(219.50 381.18) scale(0.5 1)" font-size="16.4" text-anchor="end">14</text>
<text transform="translate(219.50 401.49) scale(0.5 1)" font-size="16.4" text-anchor="end">15</text>
<text transform="translate(219.50 421.80) scale(0.5 1)" font-size="16.4" text-anchor="end">16</text>
<text transform="translate(219.50 442.11) scale(0.5 1)" font-size="16.4" text-anchor="end">17</text>
<text transform="translate(219.50 462.42) scale(0.5 1)" font-size="16.4" text-anchor="end">18</text>
<text transform="translate(219.50 482.73) scale(0.5 1)" font-size="16.4" text-anchor="end">19</text>
<text transform="translate(219.50 503.04) scale(0.5 1)" font-size="16.4" text-anchor="end">20</text>
<text transform="translate(219.50 523.35) scale(0.5 1)" font-size="16.4" text-anchor="end">21</text>
<text transform="translate(219.50 543.66) scale(0.5 1)" font-size="16.4" text-anchor="end">22</text>
<text transform="translate(219.50 563.97) scale(0.5 1)" font-size="16.4" text-anchor="end">23</text>
<text transform="translate(219.50 584.28) scale(0.5 1)" font-size="16.4" text-anchor="end">24</text>
<text transform="translate(219.50 604.59) scale(0.5 1)" font-size="16.4" text-anchor="end">25</text>
<text transform="translate(219.50 624.90) scale(0.5 1)" font-size="16.4" text-anchor="end">26</text>
<text transform="translate(219.50 645.21) scale(0.5 1)" font-size="16.4" text-anchor="end">27</text>
<text transform="translate(219.50 665.52) scale(0.5 1)" font-size="16.4" text-anchor="end">28</text>
<text transform="translate(219.50 685.83) scale(0.5 1)" font-size="16.4" text-anchor="end">29</text>
<text transform="translate(219.50 706.14) scale(0.5 1)" font-size="16.4" text-anchor="end">30</text>
<text transform="translate(219.50 726.45) scale(0.5 1)" font-size="16.4" text-anchor="end">31</text>
<text transform="translate(314.65 117.15) scale(0.5 1)" font-size="16.4" text-anchor="end">1</text>
<text transform="translate(314.65 137.46) scale(0.5 1)" font-size="16.4" text-anchor="end">2</text>
<text transform="translate(314.65 157.77) scale(0.5 1)" font-size="16.4" text-anchor="end">3</text>
<text transform="translate(314.65 178.08) scale(0.5 1)" font-size="16.4" text-anchor="end">4</text>
<text transform="translate(314.65 198.39) scale(0.5 1)" font-size="16.4" text-anchor="end">5</text>
<text transform="translate(314.65 218.70) scale(0.5 1)" font-size="16.4" text-anchor="end">6</text>
<text transform="translate(314.65 239.01) scale(0.5 1)" font-size="16.4" text-anchor="end">7</text>
<text transform="translate(314.65 259.32) scale(0.5 1)" font-size="16.4" text-anchor="end">8</text>
<text transform="translate(314.65 279.63) scale(0.5 1)" font-size="16.4" text-anchor="end">9</text>
<text transform="translate(314.65 299.94) scale(0.5 1)" font-size="16.4" text-anchor="end">10</text>
<text transform="translate(314.65 320.25) scale(0.5 1)" font-size="16.4" text-anchor="end">11</text>
<text transform="translate(314.65 340.56) scale(0.5 1)" font-size="16.4" text-anchor="end">12</text>
<text transform="translate(314.65 360.87) scale(0.5 1)" font-size="16.4" text-anchor="end">13</text>
<text transform="translate(314.65 381.18) scale(0.5 1)" font-size="16.4" text-anchor="end">14</text>
<text transform="translate(314.65 401.49) scale(0.5 1)" font-size="16.4" text-anchor="end">15</text>
<text transform="translate(314.65 421.80) scale(0.5 1)" font-size="16.4" text-anchor="end">16</text>
<text transform="translate(314.65 442.11) scale(0.5 1)" font-size="16.4" text-anchor="end">17</text>
<text transform="translate(314.65 462.42) scale(0.5 1)" font-size="16.4" text-anchor="end">18</text>
<text transform="translate(314.65 482.73) scale(0.5 1)" font-size="16.4" text-anchor="end">19</text>
<text transform="translate(314.65 503.04) scale(0.5 1)" font-size="16.4" text-anchor="end">20</text>
<text transform="translate(314.65 523.35) scale(0.5 1)" font-size="16.4" text-anchor="end">21</text>
<text transform="translate(314.65 543.66) scale(0.5 1)" font-size="16.4" text-anchor="end">22</text>
<text transform="translate(314.65 563.97) scale(0.5 1)" font-size="16.4" text-anchor="end">23</text>
<text transform="translate(314.65 584.28) scale(0.5 1)" font-size="16.4" text-anchor="end">24</text>
<text transform="translate(314.65 604.59) scale(0.5 1)" font-size="16.4" text-anchor="end">25</text>
<text transform="translate(314.65 624.90) scale(0.5 1)" font-size="16.4" text-anchor="end">26</text>
<text transform="translate(314.65 645.21) scale(0.5 1)" font-size="16.4" text-anchor="end">27</text>
<text transform="translate(314.65 665.52) scale(0.5 1)" font-size="16.4" text-anchor="end">28</text>
<text transform="translate(314.65 685.83) scale(0.5 1)" font-size="16.4" text-anchor="end">29</text>
<text transform="translate(314.65 706.14) scale(0.5 1)" font-size="16.4" text-anchor="end">30</text>
<text transform="translate(409.80 117.15) scale(0.5 1)" font-size="16.4" text-anchor="end">1</text>
<text transform="translate(409.80 137.46) scale(0.5 1)" font-size="16.4" text-anchor="end">2</text>
<text transform="translate(409.80 157.77) scale(0.5 1)" font-size="16.4" text-anchor="end">3</text>
<text transform="translate(409.80 178.08) scale(0.5 1)" font-size="16.4" text-anchor="end">4</text>
<text transform="translate(409.80 198.39) scale(0.5 1)" font-size="16.4" text-anchor="end">5</text>
<text transform="translate(409.80 218.70) scale(0.5 1)" font-size="16.4" text-anchor="end">6</text>
<text transform="translate(409.80 239.01) scale(0.5 1)" font-size="16.4" text-anchor="end">7</text>
<text transform="translate(409.80 259.32) scale(0.5 1)" font-size="16.4" text-anchor="end">8</text>
<text transform="translate(409.80 279.63) scale(0.5 1)" font-size="16.4" text-anchor="end">9</text>
<text transform="translate(409.80 299.94) scale(0.5 1)" font-size="16.4" text-anchor="end">10</text>
<text transform="translate(409.80 320.25) scale(0.5 1)" font-size="16.4" text-anchor="end">11</text>
<text transform="translate(409.80 340.56) scale(0.5 1)" font-size="16.4" text-anchor="end">12</text>
<text transform="translate(409.80 360.87) scale(0.5 1)" font-size="16.4" text-anchor="end">13</text>
<text transform="translate(409.80 381.18) scale(0.5 1)" font-size="16.4" text-anchor="end">14</text>
<text transform="translate(409.80 401.49) scale(0.5 1)" font-size="16.4" text-anchor="end">15</text>
<text transform="translate(409.80 421.80) scale(0.5 1)" font-size="16.4" text-anchor="end">16</text>
<text transform="translate(409.80 442.11) scale(0.5 1)" font-size="16.4" text-anchor="end">17</text>
<text transform="translate(409.80 462.42) scale(0.5 1)" font-size="16.4" text-anchor="end">18</text>
<text transform="translate(409.80 482.73) scale(0.5 1)" font-size="16.4" text-anchor="end">19</text>
<text transform="translate(409.80 503.04) scale(0.5 1)" font-size="16.4" text-anchor="end">20</text>
<text transform="translate(409.80 523.35) scale(0.5 1)" font-size="16.4" text-anchor="end">21</text>
<text transform="translate(409.80 543.66) scale(0.5 1)" font-size="16.4" text-anchor="end">22</text>
<text transform="translate(409.80 563.97) scale(0.5 1)" font-size="16.4" text-anchor="end">23</text>
<text transform="translate(409.80 584.28) scale(0.5 1)" font-size="16.4" text-anchor="end">24</text>
<text transform="translate(409.80 604.59) scale(0.5 1)" font-size="16.4" text-anchor="end">25</text>
<text transform="translate(409.80 624.90) scale(0.5 1)" font-size="16.4" text-anchor="end">26</text>
<text transform="translate(409.80 645.21) scale(0.5 1)" font-size="16.4" text-anchor="end">27</text>
<text transform="translate(409.80 665.52) scale(0.5 1)" font-size="16.4" text-anchor="end">28</text>
<text transform="translate(409.80 685.83) scale(0.5 1)" font-size="16.4" text-anchor="end">29</text>
<text transform="translate(409.80 706.14) scale(0.5 1)" font-size="16.4" text-anchor="end">30</text>
<text transform="translate(409.80 726.45) scale(0.5 1)" font-size="16.4" text-anchor="end">31</text>
<text transform="translate(504.95 117.15) scale(0.5 1)" font-size="16.4" text-anchor="end">1</text>
<text transform="translate(504.95 137.46) scale(0.5 1)" font-size="16.4" text-anchor="end">2</text>
<text transform="translate(504.95 157.77) scale(0.5 1)" font-size="16.4" text-anchor="end">3</text>
<text transform="translate(504.95 178.08) scale(0.5 1)" font-size="16.4" text-anchor="end">4</text>
<text transform="translate(504.95 198.39) scale(0.5 1)" font-size="16.4" text-anchor="end">5</text>
<text transform="translate(504.95 218.70) scale(0.5 1)" font-size="16.4" text-anchor="end">6</text>
<text transform="translate(504.95 239.01) scale(0.5 1)" font-size="16.4" text-anchor="end">7</text>
<text transform="translate(504.95 259.32) scale(0.5 1)" font-size="16.4" text-anchor="end">8</text>
<text transform="translate(504.95 279.63) scale(0.5 1)" font-size="16.4" text-anchor="end">9</text>
<text transform="translate(504.95 299.94) scale(0.5 1)" font-size="16.4" text-anchor="end">10</text>
<text transform="translate(504.95 320.25) scale(0.5 1)" font-size="16.4" text-anchor="end">11</text>
<text transform="translate(504.95 340.56) scale(0.5 1)" font-size="16.4" text-anchor="end">12</text>
<text transform="translate(504.95 360.87) scale(0.5 1)" font-size="16.4" text-anchor="end">13</text>
<text transform="translate(504.95 381.18) scale(0.5 1)" font-size="16.4" text-anchor="end">14</text>
<text transform="translate(504.95 401.49) scale(0.5 1)" font-size="16.4" text-anchor="end">15</text>
<text transform="translate(504.95 421.80) scale(0.5 1)" font-size="16.4" text-anchor="end">16</text>
<text transform="translate(504.95 442.11) scale(0.5 1)" font-size="16.4" text-anchor="end">17</text>
<text transform="translate(504.95 462.42) scale(0.5 1)" font-size="16.4" text-anchor="end">18</text>
<text transform="translate(504.95 482.73) scale(0.5 1)" font-size="16.4" text-anchor="end">19</text>
<text transform="translate(504.95 503.04) scale(0.5 1)" font-size="16.4" text-anchor="end">20</text>
<text transform="translate(504.95 523.35) scale(0.5 1)" font-size="16.4" text-anchor="end">21</text>
<text transform="translate(504.95 543.66) scale(0.5 1)" font-size="16.4" text-anchor="end">22</text>
<text transform="translate(504.95 563.97) scale(0.5 1)" font-size="16.4" text-anchor="end">23</text>
<text transform="translate(504.95 584.28) scale(0.5 1)" font-size="16.4" text-anchor="end">24</text>
<text transform="translate(504.95 604.59) scale(0.5 1)" font-size="16.4" text-anchor="end">25</text>
<text transform="translate(504.95 624.90) scale(0.5 1)" font-size="16.4" text-anchor="end">26</text>
<text transform="translate(504.95 645.21) scale(0.5 1)" font-size="16.4" text-anchor="end">27</text>
<text transform="translate(504.95 665.52) scale(0.5 1)" font-size="16.4" text-anchor="end">28</text>
<text transform="translate(504.95 685.83) scale(0.5 1)" font-size="16.4" text-anchor="end">29</text>
<text transform="translate(504.95 706.14) scale(0.5 1)" font-size="16.4" text-anchor="end">30</text>
<text transform="translate(600.10 117.15) scale(0.5 1)" font-size="16.4" text-anchor="end">1</text>
<text transform="translate(600.10 137.46) scale(0.5 1)" font-size="16.4" text-anchor="end">2</text>
<text transform="translate(600.10 157.77) scale(0.5 1)" font-size="16.4" text-anchor="end">3</text>
<text transform="translate(600.10 178.08) scale(0.5 1)" font-size="16.4" text-anchor="end">4</text>
<text transform="translate(600.10 198.39) scale(0.5 1)" font-size="16.4" text-anchor="end">5</text>
<text transform="translate(600.10 218.70) scale(0.5 1)" font-size="16.4" text-anchor="end">6</text>
<text transform="translate(600.10 239.01) scale(0.5 1)" font-size="16.4" text-anchor="end">7</text>
<text transform="translate(600.10 259.32) scale(0.5 1)" font-size="16.4" text-anchor="end">8</text>
<text transform="translate(600.10 279.63) scale(0.5 1)" font-size="16.4" text-anchor="end">9</text>
<text transform="translate(600.10 299.94) scale(0.5 1)" font-size="16.4" text-anchor="end">10</text>
<text transform="translate(600.10 320.25) scale(0.5 1)" font-size="16.4" text-anchor="end">11</text>
<text transform="translate(600.10 340.56) scale(0.5 1)" font-size="16.4" text-anchor="end">12</text>
<text transform="translate(600.10 360.87) scale(0.5 1)" font-size="16.4" text-anchor="end">13</text>
<text transform="translate(600.10 381.18) scale(0.5 1)" font-size="16.4" text-anchor="end">14</text>
<text transform="translate(600.10 401.49) scale(0.5 1)" font-size="16.4" text-anchor="end">15</text>
<text transform="translate(600.10 421.80) scale(0.5 1)" font-size="16.4" text-anchor="end">16</text>
<text transform="translate(600.10 442.11) scale(0.5 1)" font-size="16.4" text-anchor="end">17</text>
<text transform="translate(600.10 462.42) scale(0.5 1)" font-size="16.4" text-anchor="end">18</text>
<text transform="translate(600.10 482.73) scale(0.5 1)" font-size="16.4" text-anchor="end">19</text>
<text transform="translate(600.10 503.04) scale(0.5 1)" font-size="16.4" text-anchor="end">20</text>
<text transform="translate(600.10 523.35) scale(0.5 1)" font-size="16.4" text-anchor="end">21</text>
<text transform="translate(600.10 543.66) scale(0.5 1)" font-size="16.4" text-anchor="end">22</text>
<text transform="translate(600.10 563.97) scale(0.5 1)" font-size="16.4" text-anchor="end">23</text>
<text transform="translate(600.10 584.28) scale(0.5 1)" font-size="16.4" text-anchor="end">24</text>
<text transform="translate(600.10 604.59) scale(0.5 1)" font-size="16.4" text-anchor="end">25</text>
<text transform="translate(600.10 624.90) scale(0.5 1)" font-size="16.4" text-anchor="end">26</text>
<text transform="translate(600.10 645.21) scale(0.5 1)" font-size="16.4" text-anchor="end">27</text>
<text transform="translate(600.10 665.52) scale(0.5 1)" font-size="16.4" text-anchor="end">28</text>
<text transform="translate(600.10 685.83) scale(0.5 1)" font-size="16.4" text-anchor="end">29</text>
<text transform="translate(600.10 706.14) scale(0.5 1)" font-size="16.4" text-anchor="end">30</text>
<text transform="translate(600.10 726.45) scale(0.5 1)" font-size="16.4" text-anchor="end">31</text>
<text transform="translate(695.25 117.15) scale(0.5 1)" font-size="16.4" text-anchor="end">1</text>
<text transform="translate(695.25 137.46) scale(0.5 1)" font-size="16.4" text-anchor="end">2</text>
<text transform="translate(695.25 157.77) scale(0.5 1)" font-size="16.4" text-anchor="end">3</text>
<text transform="translate(695.25 178.08) scale(0.5 1)" font-size="16.4" text-anchor="end">4</text>
<text transform="translate(695.25 198.39) scale(0.5 1)" font-size="16.4" text-anchor="end">5</text>
<text transform="translate(695.25 218.70) scale(0.5 1)" font-size="16.4" text-anchor="end">6</text>
<text transform="translate(695.25 239.01) scale(0.5 1)" font-size="16.4" text-anchor="end">7</text>
<text transform="translate(695.25 259.32) scale(0.5 1)" font-size="16.4" text-anchor="end">8</text>
<text transform="translate(695.25 279.63) scale(0.5 1)" font-size="16.4" text-anchor="end">9</text>
<text transform="translate(695.25 299.94) scale(0.5 1)" font-size="16.4" text-anchor="end">10</text>
<text transform="translate(695.25 320.25) scale(0.5 1)" font-size="16.4" text-anchor="end">11</text>
<text transform="translate(695.25 340.56) scale(0.5 1)" font-size="16.4" text-anchor="end">12</text>
<text transform="translate(695.25 360.87) scale(0.5 1)" font-size="16.4" text-anchor="end">13</text>
<text transform="translate(695.25 381.18) scale(0.5 1)" font-size="16.4" text-anchor="end">14</text>
<text transform="translate(695.25 401.49) scale(0.5 1)" font-size="16.4" text-anchor="end">15</text>
<text transform="translate(695.25 421.80) scale(0.5 1)" font-size="16.4" text-anchor="end">16</text>
<text transform="translate(695.25 442.11) scale(0.5 1)" font-size="16.4" text-anchor="end">17</text>
<text transform="translate(695.25 462.42) scale(0.5 1)" font-size="16.4" text-anchor="end">18</text>
<text transform="translate(695.25 482.73) scale(0.5 1)" font-size="16.4" text-anchor="end">19</text>
<text transform="translate(695.25 503.04) scale(0.5 1)" font-size="16.4" text-anchor="end">20</text>
<text transform="translate(695.25 523.35) scale(0.5 1)" font-size="16.4" text-anchor="end">21</text>
<text transform="translate(695.25 543.66) scale(0.5 1)" font-size="16.4" text-anchor="end">22</text>
<text transform="translate(695.25 563.97) scale(0.5 1)" font-size="16.4" text-anchor="end">23</text>
<text transform="translate(695.25 584.28) scale(0.5 1)" font-size="16.4" text-anchor="end">24</text>
<text transform="translate(695.25 604.59) scale(0.5 1)" font-size="16.4" text-anchor="end">25</text>
<text transform="translate(695.25 624.90) scale(0.5 1)" font-size="16.4" text-anchor="end">26</text>
<text transform="translate(695.25 645.21) scale(0.5 1)" font-size="16.4" text-anchor="end">27</text>
<text transform="translate(695.25 665.52) scale(0.5 1)" font-size="16.4" text-anchor="end">28</text>
<text transform="translate(695.25 685.83) scale(0.5 1)" font-size="16.4" text-anchor="end">29</text>
<text transform="translate(695.25 706.14) scale(0.5 1)" font-size="16.4" text-anchor="end">30</text>
<text transform="translate(695.25 726.45) scale(0.5 1)" font-size="16.4" text-anchor="end">31</text>
<text transform="translate(790.40 117.15) scale(0.5 1)" font-size="16.4" text-anchor="end">1</text>
<text transform="translate(790.40 137.46) scale(0.5 1)" font-size="16.4" text-anchor="end">2</text>
<text transform="translate(790.40 157.77) scale(0.5 1)" font-size="16.4" text-anchor="end">3</text>
<text transform="translate(790.40 178.08) scale(0.5 1)" font-size="16.4" text-anchor="end">4</text>
<text transform="translate(790.40 198.39) scale(0.5 1)" font-size="16.4" text-anchor="end">5</text>
<text transform="translate(790.40 218.70) scale(0.5 1)" font-size="16.4" text-anchor="end">6</text>
<text transform="translate(790.40 239.01) scale(0.5 1)" font-size="16.4" text-anchor="end">7</text>
<text transform="translate(790.40 259.32) scale(0.5 1)" font-size="16.4" text-anchor="end">8</text>
<text transform="translate(790.40 279.63) scale(0.5 1)" font-size="16.4" text-anchor="end">9</text>
<text transform="translate(790.40 299.94) scale(0.5 1)" font-size="16.4" text-anchor="end">10</text>
<text transform="translate(790.40 320.25) scale(0.5 1)" font-size="16.4" text-anchor="end">11</text>
<text transform="translate(790.40 340.56) scale(0.5 1)" font-size="16.4" text-anchor="end">12</text>
<text transform="translate(790.40 360.87) scale(0.5 1)" font-size="16.4" text-anchor="end">13</text>
<text transform="translate(790.40 381.18) scale(0.5 1)" font-size="16.4" text-anchor="end">14</text>
<text transform="translate(790.40 401.49) scale(0.5 1)" font-size="16.4" text-anchor="end">15</text>
<text transform="translate(790.40 421.80) scale(0.5 1)" font-size="16.4" text-anchor="end">16</text>
<text transform="translate(790.40 442.11) scale(0.5 1)" font-size="16.4" text-anchor="end">17</text>
<text transform="translate(790.40 462.42) scale(0.5 1)" font-size="16.4" text-anchor="end">18</text>
<text transform="translate(790.40 482.73) scale(0.5 1)" font-size="16.4" text-anchor="end">19</text>
<text transform="translate(790.40 503.04) scale(0.5 1)" font-size="16.4" text-anchor="end">20</text>
<text transform="translate(790.40 523.35) scale(0.5 1)" font-size="16.4" text-anchor="end">21</text>
<text transform="translate(790.40 543.66) scale(0.5 1)" font-size="16.4" text-anchor="end">22</text>
<text transform="translate(790.40 563.97) scale(0.5 1)" font-size="16.4" text-anchor="end">23</text>
<text transform="translate(790.40 584.28) scale(0.5 1)" font-size="16.4" text-anchor="end">24</text>
<text transform="translate(790.40 604.59) scale(0.5 1)" font-size="16.4" text-anchor="end">25</text>
<text transform="translate(790.40 624.90) scale(0.5 1)" font-size="16.4" text-anchor="end">26</text>
<text transform="translate(790.40 645.21) scale(0.5 1)" font-size="16.4" text-anchor="end">27</text>
<text transform="translate(790.40 665.52) scale(0.5 1)" font-size="16.4" text-anchor="end">28</text>
<text transform="translate(790.40 685.83) scale(0.5 1)" font-size="16.4" text-anchor="end">29</text>
<text transform="translate(790.40 706.14) scale(0.5 1)" font-size="16.4" text-anchor="end">30</text>
<text transform="translate(885.55 117.15) scale(0.5 1)" font-size="16.4" text-anchor="end">1</text>
<text transform="translate(885.55 137.46) scale(0.5 1)" font-size="16.4" text-anchor="end">2</text>
<text transform="translate(885.55 157.77) scale(0.5 1)" font-size="16.4" text-anchor="end">3</text>
<text transform="translate(885.55 178.08) scale(0.5 1)" font-size="16.4" text-anchor="end">4</text>
<text transform="translate(885.55 198.39) scale(0.5 1)" font-size="16.4" text-anchor="end">5</text>
<text transform="translate(885.55 218.70) scale(0.5 1)" font-size="16.4" text-anchor="end">6</text>
<text transform="translate(885.55 239.01) scale(0.5 1)" font-size="16.4" text-anchor="end">7</text>
<text transform="translate(885.55 259.32) scale(0.5 1)" font-size="16.4" text-anchor="end">8</text>
<text transform="translate(885.55 279.63) scale(0.5 1)" font-size="16.4" text-anchor="end">9</text>
<text transform="translate(885.55 299.94) scale(0.5 1)" font-size="16.4" text-anchor="end">10</text>
<text transform="translate(885.55 320.25) scale(0.5 1)" font-size="16.4" text-anchor="end">11</text>
<text transform="translate(885.55 340.56) scale(0.5 1)" font-size="16.4" text-anchor="end">12</text>
<text transform="translate(885.55 360.87) scale(0.5 1)" font-size="16.4" text-anchor="end">13</text>
<text transform="translate(885.55 381.18) scale(0.5 1)" font-size="16.4" text-anchor="end">14</text>
<text transform="translate(885.55 401.49) scale(0.5 1)" font-size="16.4" text-anchor="end">15</text>
<text transform="translate(885.55 421.80) scale(0.5 1)" font-size="16.4" text-anchor="end">16</text>
<text transform="translate(885.55 442.11) scale(0.5 1)" font-size="16.4" text-anchor="end">17</text>
<text transform="translate(885.55 462.42) scale(0.5 1)" font-size="16.4" text-anchor="end">18</text>
<text transform="translate(885.55 482.73) scale(0.5 1)" font-size="16.4" text-anchor="end">19</text>
<text transform="translate(885.55 503.04) scale(0.5 1)" font-size="16.4" text-anchor="end">20</text>
<text transform="translate(885.55 523.35) scale(0.5 1)" font-size="16.4" text-anchor="end">21</text>
<text transform="translate(885.55 543.66) scale(0.5 1)" font-size="16.4" text-anchor="end">22</text>
<text transform="translate(885.55 563.97) scale(0.5 1)" font-size="16.4" text-anchor="end">23</text>
<text transform="translate(885.55 584.28) scale(0.5 1)" font-size="16.4" text-anchor="end">24</text>
<text transform="translate(885.55 604.59) scale(0.5 1)" font-size="16.4" text-anchor="end">25</text>
<text transform="translate(885.55 624.90) scale(0.5 1)" font-size="16.4" text-anchor="end">26</text>
<text transform="translate(885.55 645.21) scale(0.5 1)" font-size="16.4" text-anchor="end">27</text>
<text transform="translate(885.55 665.52) scale(0.5 1)" font-size="16.4" text-anchor="end">28</text>
<text transform="translate(885.55 685.83) scale(0.5 1)" font-size="16.4" text-anchor="end">29</text>
<text transform="translate(885.55 706.14) scale(0.5 1)" font-size="16.4" text-anchor="end">30</text>
<text transform="translate(885.55 726.45) scale(0.5 1)" font-size="16.4" text-anchor="end">31</text>
<text transform="translate(980.70 117.15) scale(0.5 1)" font-size="16.4" text-anchor="end">1</text>
<text transform="translate(980.70 137.46) scale(0.5 1)" font-size="16.4" text-anchor="end">2</text>
<text transform="translate(980.70 157.77) scale(0.5 1)" font-size="16.4" text-anchor="end">3</text>
<text transform="translate(980.70 178.08) scale(0.5 1)" font-size="16.4" text-anchor="end">4</text>
<text transform="translate(980.70 198.39) scale(0.5 1)" font-size="16.4" text-anchor="end">5</text>
<text transform="translate(980.70 218.70) scale(0.5 1)" font-size="16.4" text-anchor="end">6</text>
<text transform="translate(980.70 239.01) scale(0.5 1)" font-size="16.4" text-anchor="end">7</text>
<text transform="translate(980.70 259.32) scale(0.5 1)" font-size="16.4" text-anchor="end">8</text>
<text transform="translate(980.70 279.63) scale(0.5 1)" font-size="16.4" text-anchor="end">9</text>
<text transform="translate(980.70 299.94) scale(0.5 1)" font-size="16.4" text-anchor="end">10</text>
<text transform="translate(980.70 320.25) scale(0.5 1)" font-size="16.4" text-anchor="end">11</text>
<text transform="translate(980.70 340.56) scale(0.5 1)" font-size="16.4" text-anchor="end">12</text>
<text transform="translate(980.70 360.87) scale(0.5 1)" font-size="16.4" text-anchor="end">13</text>
<text transform="translate(980.70 381.18) scale(0.5 1)" font-size="16.4" text-anchor="end">14</text>
<text transform="translate(980.70 401.49) scale(0.5 1)" font-size="16.4" text-anchor="end">15</text>
<text transform="translate(980.70 421.80) scale(0.5 1)" font-size="16.4" text-anchor="end">16</text>
<text transform="translate(980.70 442.11) scale(0.5 1)" font-size="16.4" text-anchor="end">17</text>
<text transform="translate(980.70 462.42) scale(0.5 1)" font-size="16.4" text-anchor="end">18</text>
<text transform="translate(980.70 482.73) scale(0.5 1)" font-size="16.4" text-anchor="end">19</text>
<text transform="translate(980.70 503.04) scale(0.5 1)" font-size="16.4" text-anchor="end">20</text>
<text transform="translate(980.70 523.35) scale(0.5 1)" font-size="16.4" text-anchor="end">21</text>
<text transform="translate(980.70 543.66) scale(0.5 1)" font-size="16.4" text-anchor="end">22</text>
<text transform="translate(980.70 563.97) scale(0.5 1)" font-size="16.4" text-anchor="end">23</text>
<text transform="translate(980.70 584.28) scale(0.5 1)" font-size="16.4" text-anchor="end">24</text>
<text transform="translate(980.70 604.59) scale(0.5 1)" font-size="16.4" text-anchor="end">25</text>
<text transform="translate(980.70 624.90) scale(0.5 1)" font-size="16.4" text-anchor="end">26</text>
<text transform="translate(980.70 645.21) scale(0.5 1)" font-size="16.4" text-anchor="end">27</text>
<text transform="translate(980.70 665.52) scale(0.5 1)" font-size="16.4" text-anchor="end">28</text>
<text transform="translate(980.70 685.83) scale(0.5 1)" font-size="16.4" text-anchor="end">29</text>
<text transform="translate(980.70 706.14) scale(0.5 1)" font-size="16.4" text-anchor="end">30</text>
<text transform="translate(1075.85 117.15) scale(0.5 1)" font-size="16.4" text-anchor="end">1</text>
<text transform="translate(1075.85 137.46) scale(0.5 1)" font-size="16.4" text-anchor="end">2</text>
<text transform="translate(1075.85 157.77) scale(0.5 1)" font-size="16.4" text-anchor="end">3</text>
<text transform="translate(1075.85 178.08) scale(0.5 1)" font-size="16.4" text-anchor="end">4</text>
<text transform="translate(1075.85 198.39) scale(0.5 1)" font-size="16.4" text-anchor="end">5</text>
<text transform="translate(1075.85 218.70) scale(0.5 1)" font-size="16.4" text-anchor="end">6</text>
<text transform="translate(1075.85 239.01) scale(0.5 1)" font-size="16.4" text-anchor="end">7</text>
<text transform="translate(1075.85 259.32) scale(0.5 1)" font-size="16.4" text-anchor="end">8</text>
<text transform="translate(1075.85 279.63) scale(0.5 1)" font-size="16.4" text-anchor="end">9</text>
<text transform="translate(1075.85 299.94) scale(0.5 1)" font-size="16.4" text-anchor="end">10</text>
<text transform="translate(1075.85 320.25) scale(0.5 1)" font-size="16.4" text-anchor="end">11</text>
<text transform="translate(1075.85 340.56) scale(0.5 1)" font-size="16.4" text-anchor="end">12</text>
<text transform="translate(1075.85 360.87) scale(0.5 1)" font-size="16.4" text-anchor="end">13</text>
<text transform="translate(1075.85 381.18) scale(0.5 1)" font-size="16.4" text-anchor="end">14</text>
<text transform="translate(1075.85 401.49) scale(0.5 1)" font-size="16.4" text-anchor="end">15</text>
<text transform="translate(1075.85 421.80) scale(0.5 1)" font-size="16.4" text-anchor="end">16</text>
<text transform="translate(1075.85 442.11) scale(0.5 1)" font-size="16.4" text-anchor="end">17</text>
<text transform="translate(1075.85 462.42) scale(0.5 1)" font-size="16.4" text-anchor="end">18</text>
<text transform="translate(1075.85 482.73) scale(0.5 1)" font-size="16.4" text-anchor="end">19</text>
<text transform="translate(1075.85 503.04) scale(0.5 1)" font-size="16.4" text-anchor="end">20</text>
<text transform="translate(1075.85 523.35) scale(0.5 1)" font-size="16.4" text-anchor="end">21</text>
<text transform="translate(1075.85 543.66) scale(0.5 1)" font-size="16.4" text-anchor="end">22</text>
<text transform="translate(1075.85 563.97) scale(0.5 1)" font-size="16.4" text-anchor="end">23</text>
<text transform="translate(1075.85 584.28) scale(0.5 1)" font-size="16.4" text-anchor="end">24</text>
<text transform="translate(1075.85 604.59) scale(0.5 1)" font-size="16.4" text-anchor="end">25</text>
<text transform="translate(1075.85 624.90) scale(0.5 1)" font-size="16.4" text-anchor="end">26</text>
<text transform="translate(1075.85 645.21) scale(0.5 1)" font-size="16.4" text-anchor="end">27</text>
<text transform="translate(1075.85 665.52) scale(0.5 1)" font-size="16.4" text-anchor="end">28</text>
<text transform="translate(1075.85 685.83) scale(0.5 1)" font-size="16.4" text-anchor="end">29</text>
<text transform="translate(1075.85 706.14) scale(0.5 1)" font-size="16.4" text-anchor="end">30</text>
<text transform="translate(1075.85 726.45) scale(0.5 1)" font-size="16.4" text-anchor="end">31</text>
</g>
<g class="ns" stroke="#000" stroke-width="0.55">
<text transform="translate(30.90 117.15) scale(0.37 1)" font-size="14">Do</text>
<text transform="translate(30.90 137.46) scale(0.33 1)" font-size="14">Fr</text>
<text transform="translate(30.90 157.77) scale(0.335 1)" font-size="14">Sa</text>
<text transform="translate(30.90 178.08) scale(0.35 1)" font-size="14">So</text>
<text transform="translate(30.90 198.39) scale(0.44 1)" font-size="14">Mo</text>
<text transform="translate(30.90 218.70) scale(0.37 1)" font-size="14">Di</text>
<text transform="translate(30.90 239.01) scale(0.46 1)" font-size="14">Mi</text>
<text transform="translate(30.90 259.32) scale(0.37 1)" font-size="14">Do</text>
<text transform="translate(30.90 279.63) scale(0.33 1)" font-size="14">Fr</text>
<text transform="translate(30.90 299.94) scale(0.335 1)" font-size="14">Sa</text>
<text transform="translate(30.90 320.25) scale(0.35 1)" font-size="14">So</text>
<text transform="translate(30.90 340.56) scale(0.44 1)" font-size="14">Mo</text>
<text transform="translate(30.90 360.87) scale(0.37 1)" font-size="14">Di</text>
<text transform="translate(30.90 381.18) scale(0.46 1)" font-size="14">Mi</text>
<text transform="translate(30.90 401.49) scale(0.37 1)" font-size="14">Do</text>
<text transform="translate(30.90 421.80) scale(0.33 1)" font-size="14">Fr</text>
<text transform="translate(30.90 442.11) scale(0.335 1)" font-size="14">Sa</text>
<text transform="translate(30.90 462.42) scale(0.35 1)" font-size="14">So</text>
<text transform="translate(30.90 482.73) scale(0.44 1)" font-size="14">Mo</text>
<text transform="translate(30.90 503.04) scale(0.37 1)" font-size="14">Di</text>
<text transform="translate(30.90 523.35) scale(0.46 1)" font-size="14">Mi</text>
<text transform="translate(30.90 543.66) scale(0.37 1)" font-size="14">Do</text>
<text transform="translate(30.90 563.97) scale(0.33 1)" font-size="14">Fr</text>
<text transform="translate(30.90 584.28) scale(0.335 1)" font-size="14">Sa</text>
<text transform="translate(30.90 604.59) scale(0.35 1)" font-size="14">So</text>
<text transform="translate(30.90 624.90) scale(0.44 1)" font-size="14">Mo</text>
<text transform="translate(30.90 645.21) scale(0.37 1)" font-size="14">Di</text>
<text transform="translate(30.90 665.52) scale(0.46 1)" font-size="14">Mi</text>
<text transform="translate(30.90 685.83) scale(0.37 1)" font-size="14">Do</text>
<text transform="translate(30.90 706.14) scale(0.33 1)" font-size="14">Fr</text>
<text transform="translate(30.90 726.45) scale(0.335 1)" font-size="14">Sa</text>
<text transform="translate(126.05 117.15) scale(0.35 1)" font-size="14">So</text>
<text transform="translate(126.05 137.46) scale(0.44 1)" font-size="14">Mo</text>
<text transform="translate(126.05 157.77) scale(0.37 1)" font-size="14">Di</text>
<text transform="translate(126.05 178.08) scale(0.46 1)" font-size="14">Mi</text>
<text transform="translate(126.05 198.39) scale(0.37 1)" font-size="14">Do</text>
<text transform="translate(126.05 218.70) scale(0.33 1)" font-size="14">Fr</text>
<text transform="translate(126.05 239.01) scale(0.335 1)" font-size="14">Sa</text>
<text transform="translate(126.05 259.32) scale(0.35 1)" font-size="14">So</text>
<text transform="translate(126.05 279.63) scale(0.44 1)" font-size="14">Mo</text>
<text transform="translate(126.05 299.94) scale(0.37 1)" font-size="14">Di</text>
<text transform="translate(126.05 320.25) scale(0.46 1)" font-size="14">Mi</text>
<text transform="translate(126.05 340.56) scale(0.37 1)" font-size="14">Do</text>
<text transform="translate(126.05 360.87) scale(0.33 1)" font-size="14">Fr</text>
<text transform="translate(126.05 381.18) scale(0.335 1)" font-size="14">Sa</text>
<text transform="translate(126.05 401.49) scale(0.35 1)" font-size="14">So</text>
<text transform="translate(126.05 421.80) scale(0.44 1)" font-size="14">Mo</text>
<text transform="translate(126.05 442.11) scale(0.37 1)" font-size="14">Di</text>
<text transform="translate(126.05 462.42) scale(0.46 1)" font-size="14">Mi</text>
<text transform="translate(126.05 482.73) scale(0.37 1)" font-size="14">Do</text>
<text transform="translate(126.05 503.04) scale(0.33 1)" font-size="14">Fr</text>
<text transform="translate(126.05 523.35) scale(0.335 1)" font-size="14">Sa</text>
<text transform="translate(126.05 543.66) scale(0.35 1)" font-size="14">So</text>
<text transform="translate(126.05 563.97) scale(0.44 1)" font-size="14">Mo</text>
<text transform="translate(126.05 584.28) scale(0.37 1)" font-size="14">Di</text>
<text transform="translate(126.05 604.59) scale(0.46 1)" font-size="14">Mi</text>
<text transform="translate(126.05 624.90) scale(0.37 1)" font-size="14">Do</text>
<text transform="translate(126.05 645.21) scale(0.33 1)" font-size="14">Fr</text>
<text transform="translate(126.05 665.52) scale(0.335 1)" font-size="14">Sa</text>
<text transform="translate(221.20 117.15) scale(0.35 1)" font-size="14">So</text>
<text transform="translate(221.20 137.46) scale(0.44 1)" font-size="14">Mo</text>
<text transform="translate(221.20 157.77) scale(0.37 1)" font-size="14">Di</text>
<text transform="translate(221.20 178.08) scale(0.46 1)" font-size="14">Mi</text>
<text transform="translate(221.20 198.39) scale(0.37 1)" font-size="14">Do</text>
<text transform="translate(221.20 218.70) scale(0.33 1)" font-size="14">Fr</text>
<text transform="translate(221.20 239.01) scale(0.335 1)" font-size="14">Sa</text>
<text transform="translate(221.20 259.32) scale(0.35 1)" font-size="14">So</text>
<text transform="translate(221.20 279.63) scale(0.44 1)" font-size="14">Mo</text>
<text transform="translate(221.20 299.94) scale(0.37 1)" font-size="14">Di</text>
<text transform="translate(221.20 320.25) scale(0.46 1)" font-size="14">Mi</text>
<text transform="translate(221.20 340.56) scale(0.37 1)" font-size="14">Do</text>
<text transform="translate(221.20 360.87) scale(0.33 1)" font-size="14">Fr</text>
<text transform="translate(221.20 381.18) scale(0.335 1)" font-size="14">Sa</text>
<text transform="translate(221.20 401.49) scale(0.35 1)" font-size="14">So</text>
<text transform="translate(221.20 421.80) scale(0.44 1)" font-size="14">Mo</text>
<text transform="translate(221.20 442.11) scale(0.37 1)" font-size="14">Di</text>
<text transform="translate(221.20 462.42) scale(0.46 1)" font-size="14">Mi</text>
<text transform="translate(221.20 482.73) scale(0.37 1)" font-size="14">Do</text>
<text transform="translate(221.20 503.04) scale(0.33 1)" font-size="14">Fr</text>
<text transform="translate(221.20 523.35) scale(0.335 1)" font-size="14">Sa</text>
<text transform="translate(221.20 543.66) scale(0.35 1)" font-size="14">So</text>
<text transform="translate(221.20 563.97) scale(0.44 1)" font-size="14">Mo</text>
<text transform="translate(221.20 584.28) scale(0.37 1)" font-size="14">Di</text>
<text transform="translate(221.20 604.59) scale(0.46 1)" font-size="14">Mi</text>
<text transform="translate(221.20 624.90) scale(0.37 1)" font-size="14">Do</text>
<text transform="translate(221.20 645.21) scale(0.33 1)" font-size="14">Fr</text>
<text transform="translate(221.20 665.52) scale(0.335 1)" font-size="14">Sa</text>
<text transform="translate(221.20 685.83) scale(0.35 1)" font-size="14">So</text>
<text transform="translate(221.20 706.14) scale(0.44 1)" font-size="14">Mo</text>
<text transform="translate(221.20 726.45) scale(0.37 1)" font-size="14">Di</text>
<text transform="translate(316.35 117.15) scale(0.46 1)" font-size="14">Mi</text>
<text transform="translate(316.35 137.46) scale(0.37 1)" font-size="14">Do</text>
<text transform="translate(316.35 157.77) scale(0.33 1)" font-size="14">Fr</text>
<text transform="translate(316.35 178.08) scale(0.335 1)" font-size="14">Sa</text>
<text transform="translate(316.35 198.39) scale(0.35 1)" font-size="14">So</text>
<text transform="translate(316.35 218.70) scale(0.44 1)" font-size="14">Mo</text>
<text transform="translate(316.35 239.01) scale(0.37 1)" font-size="14">Di</text>
<text transform="translate(316.35 259.32) scale(0.46 1)" font-size="14">Mi</text>
<text transform="translate(316.35 279.63) scale(0.37 1)" font-size="14">Do</text>
<text transform="translate(316.35 299.94) scale(0.33 1)" font-size="14">Fr</text>
<text transform="translate(316.35 320.25) scale(0.335 1)" font-size="14">Sa</text>
<text transform="translate(316.35 340.56) scale(0.35 1)" font-size="14">So</text>
<text transform="translate(316.35 360.87) scale(0.44 1)" font-size="14">Mo</text>
<text transform="translate(316.35 381.18) scale(0.37 1)" font-size="14">Di</text>
<text transform="translate(316.35 401.49) scale(0.46 1)" font-size="14">Mi</text>
<text transform="translate(316.35 421.80) scale(0.37 1)" font-size="14">Do</text>
<text transform="translate(316.35 442.11) scale(0.33 1)" font-size="14">Fr</text>
<text transform="translate(316.35 462.42) scale(0.335 1)" font-size="14">Sa</text>
<text transform="translate(316.35 482.73) scale(0.35 1)" font-size="14">So</text>
<text transform="translate(316.35 503.04) scale(0.44 1)" font-size="14">Mo</text>
<text transform="translate(316.35 523.35) scale(0.37 1)" font-size="14">Di</text>
<text transform="translate(316.35 543.66) scale(0.46 1)" font-size="14">Mi</text>
<text transform="translate(316.35 563.97) scale(0.37 1)" font-size="14">Do</text>
<text transform="translate(316.35 584.28) scale(0.33 1)" font-size="14">Fr</text>
<text transform="translate(316.35 604.59) scale(0.335 1)" font-size="14">Sa</text>
<text transform="translate(316.35 624.90) scale(0.35 1)" font-size="14">So</text>
<text transform="translate(316.35 645.21) scale(0.44 1)" font-size="14">Mo</text>
<text transform="translate(316.35 665.52) scale(0.37 1)" font-size="14">Di</text>
<text transform="translate(316.35 685.83) scale(0.46 1)" font-size="14">Mi</text>
<text transform="translate(316.35 706.14) scale(0.37 1)" font-size="14">Do</text>
<text transform="translate(411.50 117.15) scale(0.33 1)" font-size="14">Fr</text>
<text transform="translate(411.50 137.46) scale(0.335 1)" font-size="14">Sa</text>
<text transform="translate(411.50 157.77) scale(0.35 1)" font-size="14">So</text>
<text transform="translate(411.50 178.08) scale(0.44 1)" font-size="14">Mo</text>
<text transform="translate(411.50 198.39) scale(0.37 1)" font-size="14">Di</text>
<text transform="translate(411.50 218.70) scale(0.46 1)" font-size="14">Mi</text>
<text transform="translate(411.50 239.01) scale(0.37 1)" font-size="14">Do</text>
<text transform="translate(411.50 259.32) scale(0.33 1)" font-size="14">Fr</text>
<text transform="translate(411.50 279.63) scale(0.335 1)" font-size="14">Sa</text>
<text transform="translate(411.50 299.94) scale(0.35 1)" font-size="14">So</text>
<text transform="translate(411.50 320.25) scale(0.44 1)" font-size="14">Mo</text>
<text transform="translate(411.50 340.56) scale(0.37 1)" font-size="14">Di</text>
<text transform="translate(411.50 360.87) scale(0.46 1)" font-size="14">Mi</text>
<text transform="translate(411.50 381.18) scale(0.37 1)" font-size="14">Do</text>
<text transform="translate(411.50 401.49) scale(0.33 1)" font-size="14">Fr</text>
<text transform="translate(411.50 421.80) scale(0.335 1)" font-size="14">Sa</text>
<text transform="translate(411.50 442.11) scale(0.35 1)" font-size="14">So</text>
<text transform="translate(411.50 462.42) scale(0.44 1)" font-size="14">Mo</text>
<text transform="translate(411.50 482.73) scale(0.37 1)" font-size="14">Di</text>
<text transform="translate(411.50 503.04) scale(0.46 1)" font-size="14">Mi</text>
<text transform="translate(411.50 523.35) scale(0.37 1)" font-size="14">Do</text>
<text transform="translate(411.50 543.66) scale(0.33 1)" font-size="14">Fr</text>
<text transform="translate(411.50 563.97) scale(0.335 1)" font-size="14">Sa</text>
<text transform="translate(411.50 584.28) scale(0.35 1)" font-size="14">So</text>
<text transform="translate(411.50 604.59) scale(0.44 1)" font-size="14">Mo</text>
<text transform="translate(411.50 624.90) scale(0.37 1)" font-size="14">Di</text>
<text transform="translate(411.50 645.21) scale(0.46 1)" font-size="14">Mi</text>
<text transform="translate(411.50 665.52) scale(0.37 1)" font-size="14">Do</text>
<text transform="translate(411.50 685.83) scale(0.33 1)" font-size="14">Fr</text>
<text transform="translate(411.50 706.14) scale(0.335 1)" font-size="14">Sa</text>
<text transform="translate(411.50 726.45) scale(0.35 1)" font-size="14">So</text>
<text transform="translate(506.65 117.15) scale(0.44 1)" font-size="14">Mo</text>
<text transform="translate(506.65 137.46) scale(0.37 1)" font-size="14">Di</text>
<text transform="translate(506.65 157.77) scale(0.46 1)" font-size="14">Mi</text>
<text transform="translate(506.65 178.08) scale(0.37 1)" font-size="14">Do</text>
<text transform="translate(506.65 198.39) scale(0.33 1)" font-size="14">Fr</text>
<text transform="translate(506.65 218.70) scale(0.335 1)" font-size="14">Sa</text>
<text transform="translate(506.65 239.01) scale(0.35 1)" font-size="14">So</text>
<text transform="translate(506.65 259.32) scale(0.44 1)" font-size="14">Mo</text>
<text transform="translate(506.65 279.63) scale(0.37 1)" font-size="14">Di</text>
<text transform="translate(506.65 299.94) scale(0.46 1)" font-size="14">Mi</text>
<text transform="translate(506.65 320.25) scale(0.37 1)" font-size="14">Do</text>
<text transform="translate(506.65 340.56) scale(0.33 1)" font-size="14">Fr</text>
<text transform="translate(506.65 360.87) scale(0.335 1)" font-size="14">Sa</text>
<text transform="translate(506.65 381.18) scale(0.35 1)" font-size="14">So</text>
<text transform="translate(506.65 401.49) scale(0.44 1)" font-size="14">Mo</text>
<text transform="translate(506.65 421.80) scale(0.37 1)" font-size="14">Di</text>
<text transform="translate(506.65 442.11) scale(0.46 1)" font-size="14">Mi</text>
<text transform="translate(506.65 462.42) scale(0.37 1)" font-size="14">Do</text>
<text transform="translate(506.65 482.73) scale(0.33 1)" font-size="14">Fr</text>
<text transform="translate(506.65 503.04) scale(0.335 1)" font-size="14">Sa</text>
<text transform="translate(506.65 523.35) scale(0.35 1)" font-size="14">So</text>
<text transform="translate(506.65 543.66) scale(0.44 1)" font-size="14">Mo</text>
<text transform="translate(506.65 563.97) scale(0.37 1)" font-size="14">Di</text>
<text transform="translate(506.65 584.28) scale(0.46 1)" font-size="14">Mi</text>
<text transform="translate(506.65 604.59) scale(0.37 1)" font-size="14">Do</text>
<text transform="translate(506.65 624.90) scale(0.33 1)" font-size="14">Fr</text>
<text transform="translate(506.65 645.21) scale(0.335 1)" font-size="14">Sa</text>
<text transform="translate(506.65 665.52) scale(0.35 1)" font-size="14">So</text>
<text transform="translate(506.65 685.83) scale(0.44 1)" font-size="14">Mo</text>
<text transform="translate(506.65 706.14) scale(0.37 1)" font-size="14">Di</text>
<text transform="translate(601.80 117.15) scale(0.46 1)" font-size="14">Mi</text>
<text transform="translate(601.80 137.46) scale(0.37 1)" font-size="14">Do</text>
<text transform="translate(601.80 157.77) scale(0.33 1)" font-size="14">Fr</text>
<text transform="translate(601.80 178.08) scale(0.335 1)" font-size="14">Sa</text>
<text transform="translate(601.80 198.39) scale(0.35 1)" font-size="14">So</text>
<text transform="translate(601.80 218.70) scale(0.44 1)" font-size="14">Mo</text>
<text transform="translate(601.80 239.01) scale(0.37 1)" font-size="14">Di</text>
<text transform="translate(601.80 259.32) scale(0.46 1)" font-size="14">Mi</text>
<text transform="translate(601.80 279.63) scale(0.37 1)" font-size="14">Do</text>
<text transform="translate(601.80 299.94) scale(0.33 1)" font-size="14">Fr</text>
<text transform="translate(601.80 320.25) scale(0.335 1)" font-size="14">Sa</text>
<text transform="translate(601.80 340.56) scale(0.35 1)" font-size="14">So</text>
<text transform="translate(601.80 360.87) scale(0.44 1)" font-size="14">Mo</text>
<text transform="translate(601.80 381.18) scale(0.37 1)" font-size="14">Di</text>
<text transform="translate(601.80 401.49) scale(0.46 1)" font-size="14">Mi</text>
<text transform="translate(601.80 421.80) scale(0.37 1)" font-size="14">Do</text>
<text transform="translate(601.80 442.11) scale(0.33 1)" font-size="14">Fr</text>
<text transform="translate(601.80 462.42) scale(0.335 1)" font-size="14">Sa</text>
<text transform="translate(601.80 482.73) scale(0.35 1)" font-size="14">So</text>
<text transform="translate(601.80 503.04) scale(0.44 1)" font-size="14">Mo</text>
<text transform="translate(601.80 523.35) scale(0.37 1)" font-size="14">Di</text>
<text transform="translate(601.80 543.66) scale(0.46 1)" font-size="14">Mi</text>
<text transform="translate(601.80 563.97) scale(0.37 1)" font-size="14">Do</text>
<text transform="translate(601.80 584.28) scale(0.33 1)" font-size="14">Fr</text>
<text transform="translate(601.80 604.59) scale(0.335 1)" font-size="14">Sa</text>
<text transform="translate(601.80 624.90) scale(0.35 1)" font-size="14">So</text>
<text transform="translate(601.80 645.21) scale(0.44 1)" font-size="14">Mo</text>
<text transform="translate(601.80 665.52) scale(0.37 1)" font-size="14">Di</text>
<text transform="translate(601.80 685.83) scale(0.46 1)" font-size="14">Mi</text>
<text transform="translate(601.80 706.14) scale(0.37 1)" font-size="14">Do</text>
<text transform="translate(601.80 726.45) scale(0.33 1)" font-size="14">Fr</text>
<text transform="translate(696.95 117.15) scale(0.335 1)" font-size="14">Sa</text>
<text transform="translate(696.95 137.46) scale(0.35 1)" font-size="14">So</text>
<text transform="translate(696.95 157.77) scale(0.44 1)" font-size="14">Mo</text>
<text transform="translate(696.95 178.08) scale(0.37 1)" font-size="14">Di</text>
<text transform="translate(696.95 198.39) scale(0.46 1)" font-size="14">Mi</text>
<text transform="translate(696.95 218.70) scale(0.37 1)" font-size="14">Do</text>
<text transform="translate(696.95 239.01) scale(0.33 1)" font-size="14">Fr</text>
<text transform="translate(696.95 259.32) scale(0.335 1)" font-size="14">Sa</text>
<text transform="translate(696.95 279.63) scale(0.35 1)" font-size="14">So</text>
<text transform="translate(696.95 299.94) scale(0.44 1)" font-size="14">Mo</text>
<text transform="translate(696.95 320.25) scale(0.37 1)" font-size="14">Di</text>
<text transform="translate(696.95 340.56) scale(0.46 1)" font-size="14">Mi</text>
<text transform="translate(696.95 360.87) scale(0.37 1)" font-size="14">Do</text>
<text transform="translate(696.95 381.18) scale(0.33 1)" font-size="14">Fr</text>
<text transform="translate(696.95 401.49) scale(0.335 1)" font-size="14">Sa</text>
<text transform="translate(696.95 421.80) scale(0.35 1)" font-size="14">So</text>
<text transform="translate(696.95 442.11) scale(0.44 1)" font-size="14">Mo</text>
<text transform="translate(696.95 462.42) scale(0.37 1)" font-size="14">Di</text>
<text transform="translate(696.95 482.73) scale(0.46 1)" font-size="14">Mi</text>
<text transform="translate(696.95 503.04) scale(0.37 1)" font-size="14">Do</text>
<text transform="translate(696.95 523.35) scale(0.33 1)" font-size="14">Fr</text>
<text transform="translate(696.95 543.66) scale(0.335 1)" font-size="14">Sa</text>
<text transform="translate(696.95 563.97) scale(0.35 1)" font-size="14">So</text>
<text transform="translate(696.95 584.28) scale(0.44 1)" font-size="14">Mo</text>
<text transform="translate(696.95 604.59) scale(0.37 1)" font-size="14">Di</text>
<text transform="translate(696.95 624.90) scale(0.46 1)" font-size="14">Mi</text>
<text transform="translate(696.95 645.21) scale(0.37 1)" font-size="14">Do</text>
<text transform="translate(696.95 665.52) scale(0.33 1)" font-size="14">Fr</text>
<text transform="translate(696.95 685.83) scale(0.335 1)" font-size="14">Sa</text>
<text transform="translate(696.95 706.14) scale(0.35 1)" font-size="14">So</text>
<text transform="translate(696.95 726.45) scale(0.44 1)" font-size="14">Mo</text>
<text transform="translate(792.10 117.15) scale(0.37 1)" font-size="14">Di</text>
<text transform="translate(792.10 137.46) scale(0.46 1)" font-size="14">Mi</text>
<text transform="translate(792.10 157.77) scale(0.37 1)" font-size="14">Do</text>
<text transform="translate(792.10 178.08) scale(0.33 1)" font-size="14">Fr</text>
<text transform="translate(792.10 198.39) scale(0.335 1)" font-size="14">Sa</text>
<text transform="translate(792.10 218.70) scale(0.35 1)" font-size="14">So</text>
<text transform="translate(792.10 239.01) scale(0.44 1)" font-size="14">Mo</text>
<text transform="translate(792.10 259.32) scale(0.37 1)" font-size="14">Di</text>
<text transform="translate(792.10 279.63) scale(0.46 1)" font-size="14">Mi</text>
<text transform="translate(792.10 299.94) scale(0.37 1)" font-size="14">Do</text>
<text transform="translate(792.10 320.25) scale(0.33 1)" font-size="14">Fr</text>
<text transform="translate(792.10 340.56) scale(0.335 1)" font-size="14">Sa</text>
<text transform="translate(792.10 360.87) scale(0.35 1)" font-size="14">So</text>
<text transform="translate(792.10 381.18) scale(0.44 1)" font-size="14">Mo</text>
<text transform="translate(792.10 401.49) scale(0.37 1)" font-size="14">Di</text>
<text transform="translate(792.10 421.80) scale(0.46 1)" font-size="14">Mi</text>
<text transform="translate(792.10 442.11) scale(0.37 1)" font-size="14">Do</text>
<text transform="translate(792.10 462.42) scale(0.33 1)" font-size="14">Fr</text>
<text transform="translate(792.10 482.73) scale(0.335 1)" font-size="14">Sa</text>
<text transform="translate(792.10 503.04) scale(0.35 1)" font-size="14">So</text>
<text transform="translate(792.10 523.35) scale(0.44 1)" font-size="14">Mo</text>
<text transform="translate(792.10 543.66) scale(0.37 1)" font-size="14">Di</text>
<text transform="translate(792.10 563.97) scale(0.46 1)" font-size="14">Mi</text>
<text transform="translate(792.10 584.28) scale(0.37 1)" font-size="14">Do</text>
<text transform="translate(792.10 604.59) scale(0.33 1)" font-size="14">Fr</text>
<text transform="translate(792.10 624.90) scale(0.335 1)" font-size="14">Sa</text>
<text transform="translate(792.10 645.21) scale(0.35 1)" font-size="14">So</text>
<text transform="translate(792.10 665.52) scale(0.44 1)" font-size="14">Mo</text>
<text transform="translate(792.10 685.83) scale(0.37 1)" font-size="14">Di</text>
<text transform="translate(792.10 706.14) scale(0.46 1)" font-size="14">Mi</text>
<text transform="translate(887.25 117.15) scale(0.37 1)" font-size="14">Do</text>
<text transform="translate(887.25 137.46) scale(0.33 1)" font-size="14">Fr</text>
<text transform="translate(887.25 157.77) scale(0.335 1)" font-size="14">Sa</text>
<text transform="translate(887.25 178.08) scale(0.35 1)" font-size="14">So</text>
<text transform="translate(887.25 198.39) scale(0.44 1)" font-size="14">Mo</text>
<text transform="translate(887.25 218.70) scale(0.37 1)" font-size="14">Di</text>
<text transform="translate(887.25 239.01) scale(0.46 1)" font-size="14">Mi</text>
<text transform="translate(887.25 259.32) scale(0.37 1)" font-size="14">Do</text>
<text transform="translate(887.25 279.63) scale(0.33 1)" font-size="14">Fr</text>
<text transform="translate(887.25 299.94) scale(0.335 1)" font-size="14">Sa</text>
<text transform="translate(887.25 320.25) scale(0.35 1)" font-size="14">So</text>
<text transform="translate(887.25 340.56) scale(0.44 1)" font-size="14">Mo</text>
<text transform="translate(887.25 360.87) scale(0.37 1)" font-size="14">Di</text>
<text transform="translate(887.25 381.18) scale(0.46 1)" font-size="14">Mi</text>
<text transform="translate(887.25 401.49) scale(0.37 1)" font-size="14">Do</text>
<text transform="translate(887.25 421.80) scale(0.33 1)" font-size="14">Fr</text>
<text transform="translate(887.25 442.11) scale(0.335 1)" font-size="14">Sa</text>
<text transform="translate(887.25 462.42) scale(0.35 1)" font-size="14">So</text>
<text transform="translate(887.25 482.73) scale(0.44 1)" font-size="14">Mo</text>
<text transform="translate(887.25 503.04) scale(0.37 1)" font-size="14">Di</text>
<text transform="translate(887.25 523.35) scale(0.46 1)" font-size="14">Mi</text>
<text transform="translate(887.25 543.66) scale(0.37 1)" font-size="14">Do</text>
<text transform="translate(887.25 563.97) scale(0.33 1)" font-size="14">Fr</text>
<text transform="translate(887.25 584.28) scale(0.335 1)" font-size="14">Sa</text>
<text transform="translate(887.25 604.59) scale(0.35 1)" font-size="14">So</text>
<text transform="translate(887.25 624.90) scale(0.44 1)" font-size="14">Mo</text>
<text transform="translate(887.25 645.21) scale(0.37 1)" font-size="14">Di</text>
<text transform="translate(887.25 665.52) scale(0.46 1)" font-size="14">Mi</text>
<text transform="translate(887.25 685.83) scale(0.37 1)" font-size="14">Do</text>
<text transform="translate(887.25 706.14) scale(0.33 1)" font-size="14">Fr</text>
<text transform="translate(887.25 726.45) scale(0.335 1)" font-size="14">Sa</text>
<text transform="translate(982.40 117.15) scale(0.35 1)" font-size="14">So</text>
<text transform="translate(982.40 137.46) scale(0.44 1)" font-size="14">Mo</text>
<text transform="translate(982.40 157.77) scale(0.37 1)" font-size="14">Di</text>
<text transform="translate(982.40 178.08) scale(0.46 1)" font-size="14">Mi</text>
<text transform="translate(982.40 198.39) scale(0.37 1)" font-size="14">Do</text>
<text transform="translate(982.40 218.70) scale(0.33 1)" font-size="14">Fr</text>
<text transform="translate(982.40 239.01) scale(0.335 1)" font-size="14">Sa</text>
<text transform="translate(982.40 259.32) scale(0.35 1)" font-size="14">So</text>
<text transform="translate(982.40 279.63) scale(0.44 1)" font-size="14">Mo</text>
<text transform="translate(982.40 299.94) scale(0.37 1)" font-size="14">Di</text>
<text transform="translate(982.40 320.25) scale(0.46 1)" font-size="14">Mi</text>
<text transform="translate(982.40 340.56) scale(0.37 1)" font-size="14">Do</text>
<text transform="translate(982.40 360.87) scale(0.33 1)" font-size="14">Fr</text>
<text transform="translate(982.40 381.18) scale(0.335 1)" font-size="14">Sa</text>
<text transform="translate(982.40 401.49) scale(0.35 1)" font-size="14">So</text>
<text transform="translate(982.40 421.80) scale(0.44 1)" font-size="14">Mo</text>
<text transform="translate(982.40 442.11) scale(0.37 1)" font-size="14">Di</text>
<text transform="translate(982.40 462.42) scale(0.46 1)" font-size="14">Mi</text>
<text transform="translate(982.40 482.73) scale(0.37 1)" font-size="14">Do</text>
<text transform="translate(982.40 503.04) scale(0.33 1)" font-size="14">Fr</text>
<text transform="translate(982.40 523.35) scale(0.335 1)" font-size="14">Sa</text>
<text transform="translate(982.40 543.66) scale(0.35 1)" font-size="14">So</text>
<text transform="translate(982.40 563.97) scale(0.44 1)" font-size="14">Mo</text>
<text transform="translate(982.40 584.28) scale(0.37 1)" font-size="14">Di</text>
<text transform="translate(982.40 604.59) scale(0.46 1)" font-size="14">Mi</text>
<text transform="translate(982.40 624.90) scale(0.37 1)" font-size="14">Do</text>
<text transform="translate(982.40 645.21) scale(0.33 1)" font-size="14">Fr</text>
<text transform="translate(982.40 665.52) scale(0.335 1)" font-size="14">Sa</text>
<text transform="translate(982.40 685.83) scale(0.35 1)" font-size="14">So</text>
<text transform="translate(982.40 706.14) scale(0.44 1)" font-size="14">Mo</text>
<text transform="translate(1077.55 117.15) scale(0.37 1)" font-size="14">Di</text>
<text transform="translate(1077.55 137.46) scale(0.46 1)" font-size="14">Mi</text>
<text transform="translate(1077.55 157.77) scale(0.37 1)" font-size="14">Do</text>
<text transform="translate(1077.55 178.08) scale(0.33 1)" font-size="14">Fr</text>
<text transform="translate(1077.55 198.39) scale(0.335 1)" font-size="14">Sa</text>
<text transform="translate(1077.55 218.70) scale(0.35 1)" font-size="14">So</text>
<text transform="translate(1077.55 239.01) scale(0.44 1)" font-size="14">Mo</text>
<text transform="translate(1077.55 259.32) scale(0.37 1)" font-size="14">Di</text>
<text transform="translate(1077.55 279.63) scale(0.46 1)" font-size="14">Mi</text>
<text transform="translate(1077.55 299.94) scale(0.37 1)" font-size="14">Do</text>
<text transform="translate(1077.55 320.25) scale(0.33 1)" font-size="14">Fr</text>
<text transform="translate(1077.55 340.56) scale(0.335 1)" font-size="14">Sa</text>
<text transform="translate(1077.55 360.87) scale(0.35 1)" font-size="14">So</text>
<text transform="translate(1077.55 381.18) scale(0.44 1)" font-size="14">Mo</text>
<text transform="translate(1077.55 401.49) scale(0.37 1)" font-size="14">Di</text>
<text transform="translate(1077.55 421.80) scale(0.46 1)" font-size="14">Mi</text>
<text transform="translate(1077.55 442.11) scale(0.37 1)" font-size="14">Do</text>
<text transform="translate(1077.55 462.42) scale(0.33 1)" font-size="14">Fr</text>
<text transform="translate(1077.55 482.73) scale(0.335 1)" font-size="14">Sa</text>
<text transform="translate(1077.55 503.04) scale(0.35 1)" font-size="14">So</text>
<text transform="translate(1077.55 523.35) scale(0.44 1)" font-size="14">Mo</text>
<text transform="translate(1077.55 543.66) scale(0.37 1)" font-size="14">Di</text>
<text transform="translate(1077.55 563.97) scale(0.46 1)" font-size="14">Mi</text>
<text transform="translate(1077.55 584.28) scale(0.37 1)" font-size="14">Do</text>
<text transform="translate(1077.55 604.59) scale(0.33 1)" font-size="14">Fr</text>
<text transform="translate(1077.55 624.90) scale(0.335 1)" font-size="14">Sa</text>
<text transform="translate(1077.55 645.21) scale(0.35 1)" font-size="14">So</text>
<text transform="translate(1077.55 665.52) scale(0.44 1)" font-size="14">Mo</text>
<text transform="translate(1077.55 685.83) scale(0.37 1)" font-size="14">Di</text>
<text transform="translate(1077.55 706.14) scale(0.46 1)" font-size="14">Mi</text>
<text transform="translate(1077.55 726.45) scale(0.37 1)" font-size="14">Do</text>
</g>
<g class="ns" stroke="#000" stroke-width="0.35">
<text transform="translate(100.50 112.80) scale(0.37 1)" font-size="13.5" text-anchor="end">1.</text>
<text transform="translate(100.50 194.04) scale(0.37 1)" font-size="13.5" text-anchor="end">2.</text>
<text transform="translate(100.50 336.21) scale(0.37 1)" font-size="13.5" text-anchor="end">3.</text>
<text transform="translate(100.50 478.38) scale(0.37 1)" font-size="13.5" text-anchor="end">4.</text>
<text transform="translate(100.50 620.55) scale(0.37 1)" font-size="13.5" text-anchor="end">5.</text>
<text transform="translate(195.50 133.11) scale(0.37 1)" font-size="13.5" text-anchor="end">6.</text>
<text transform="translate(195.50 275.28) scale(0.37 1)" font-size="13.5" text-anchor="end">7.</text>
<text transform="translate(195.50 417.45) scale(0.37 1)" font-size="13.5" text-anchor="end">8.</text>
<text transform="translate(195.50 559.62) scale(0.37 1)" font-size="13.5" text-anchor="end">9.</text>
<text transform="translate(290.50 133.11) scale(0.37 1)" font-size="13.5" text-anchor="end">10.</text>
<text transform="translate(290.50 275.28) scale(0.37 1)" font-size="13.5" text-anchor="end">11.</text>
<text transform="translate(290.50 417.45) scale(0.37 1)" font-size="13.5" text-anchor="end">12.</text>
<text transform="translate(290.50 559.62) scale(0.37 1)" font-size="13.5" text-anchor="end">13.</text>
<text transform="translate(290.50 701.79) scale(0.37 1)" font-size="13.5" text-anchor="end">14.</text>
<text transform="translate(385.50 214.35) scale(0.37 1)" font-size="13.5" text-anchor="end">15.</text>
<text transform="translate(385.50 356.52) scale(0.37 1)" font-size="13.5" text-anchor="end">16.</text>
<text transform="translate(385.50 498.69) scale(0.37 1)" font-size="13.5" text-anchor="end">17.</text>
<text transform="translate(385.50 640.86) scale(0.37 1)" font-size="13.5" text-anchor="end">18.</text>
<text transform="translate(480.50 173.73) scale(0.37 1)" font-size="13.5" text-anchor="end">19.</text>
<text transform="translate(480.50 315.90) scale(0.37 1)" font-size="13.5" text-anchor="end">20.</text>
<text transform="translate(480.50 458.07) scale(0.37 1)" font-size="13.5" text-anchor="end">21.</text>
<text transform="translate(480.50 600.24) scale(0.37 1)" font-size="13.5" text-anchor="end">22.</text>
<text transform="translate(575.50 112.80) scale(0.37 1)" font-size="13.5" text-anchor="end">23.</text>
<text transform="translate(575.50 254.97) scale(0.37 1)" font-size="13.5" text-anchor="end">24.</text>
<text transform="translate(575.50 397.14) scale(0.37 1)" font-size="13.5" text-anchor="end">25.</text>
<text transform="translate(575.50 539.31) scale(0.37 1)" font-size="13.5" text-anchor="end">26.</text>
<text transform="translate(575.50 681.48) scale(0.37 1)" font-size="13.5" text-anchor="end">27.</text>
<text transform="translate(671.50 214.35) scale(0.37 1)" font-size="13.5" text-anchor="end">28.</text>
<text transform="translate(671.50 356.52) scale(0.37 1)" font-size="13.5" text-anchor="end">29.</text>
<text transform="translate(671.50 498.69) scale(0.37 1)" font-size="13.5" text-anchor="end">30.</text>
<text transform="translate(671.50 640.86) scale(0.37 1)" font-size="13.5" text-anchor="end">31.</text>
<text transform="translate(766.50 153.42) scale(0.37 1)" font-size="13.5" text-anchor="end">32.</text>
<text transform="translate(766.50 295.59) scale(0.37 1)" font-size="13.5" text-anchor="end">33.</text>
<text transform="translate(766.50 437.76) scale(0.37 1)" font-size="13.5" text-anchor="end">34.</text>
<text transform="translate(766.50 579.93) scale(0.37 1)" font-size="13.5" text-anchor="end">35.</text>
<text transform="translate(766.50 722.10) scale(0.37 1)" font-size="13.5" text-anchor="end">36.</text>
<text transform="translate(861.50 234.66) scale(0.37 1)" font-size="13.5" text-anchor="end">37.</text>
<text transform="translate(861.50 376.83) scale(0.37 1)" font-size="13.5" text-anchor="end">38.</text>
<text transform="translate(861.50 519.00) scale(0.37 1)" font-size="13.5" text-anchor="end">39.</text>
<text transform="translate(861.50 661.17) scale(0.37 1)" font-size="13.5" text-anchor="end">40.</text>
<text transform="translate(956.50 194.04) scale(0.37 1)" font-size="13.5" text-anchor="end">41.</text>
<text transform="translate(956.50 336.21) scale(0.37 1)" font-size="13.5" text-anchor="end">42.</text>
<text transform="translate(956.50 478.38) scale(0.37 1)" font-size="13.5" text-anchor="end">43.</text>
<text transform="translate(956.50 620.55) scale(0.37 1)" font-size="13.5" text-anchor="end">44.</text>
<text transform="translate(1051.50 133.11) scale(0.37 1)" font-size="13.5" text-anchor="end">45.</text>
<text transform="translate(1051.50 275.28) scale(0.37 1)" font-size="13.5" text-anchor="end">46.</text>
<text transform="translate(1051.50 417.45) scale(0.37 1)" font-size="13.5" text-anchor="end">47.</text>
<text transform="translate(1051.50 559.62) scale(0.37 1)" font-size="13.5" text-anchor="end">48.</text>
<text transform="translate(1051.50 701.79) scale(0.37 1)" font-size="13.5" text-anchor="end">49.</text>
<text transform="translate(1146.50 234.66) scale(0.37 1)" font-size="13.5" text-anchor="end">50.</text>
<text transform="translate(1146.50 376.83) scale(0.37 1)" font-size="13.5" text-anchor="end">51.</text>
<text transform="translate(1146.50 519.00) scale(0.37 1)" font-size="13.5" text-anchor="end">52.</text>
<text transform="translate(1146.50 661.17) scale(0.37 1)" font-size="13.5" text-anchor="end">53.</text>
</g>
<g class="ns" stroke="#000" stroke-width="0.3">
<text transform="translate(42.20 116.65) scale(0.567 1)" font-size="8.4" font-weight="bold">Neujahr</text>
<text transform="translate(42.20 218.20) scale(0.567 1)" font-size="8.4" font-weight="bold">Heilige Drei Könige</text>
<text x="43.50" y="637.80" font-size="8.5" font-weight="bold" textLength="46.8" lengthAdjust="spacingAndGlyphs">Gedenktag f. d. Opfer</text>
<text x="43.50" y="646.50" font-size="8.5" font-weight="bold" textLength="48.8" lengthAdjust="spacingAndGlyphs">d. Nationalsozialismus</text>
<text transform="translate(137.35 421.30) scale(0.567 1)" font-size="8.4" font-weight="bold">Rosenmontag</text>
<text transform="translate(137.35 461.92) scale(0.567 1)" font-size="8.4" font-weight="bold">Aschermittwoch</text>
<text transform="translate(232.50 258.82) scale(0.567 1)" font-size="8.4" font-weight="bold">Internationaler Frauentag</text>
<text x="232.80" y="313.00" font-size="6.8" font-weight="bold" textLength="45.0" lengthAdjust="spacingAndGlyphs">Gedenktag für die Opfer</text>
<text x="232.80" y="320.90" font-size="6.8" font-weight="bold" textLength="39.0" lengthAdjust="spacingAndGlyphs">terroristischer Gewalt</text>
<text transform="translate(327.65 136.96) scale(0.567 1)" font-size="8.4" font-weight="bold">Gründonnerstag</text>
<text transform="translate(327.65 157.27) scale(0.567 1)" font-size="8.4" font-weight="bold">Karfreitag</text>
<text transform="translate(327.65 197.89) scale(0.567 1)" font-size="8.4" font-weight="bold">Ostersonntag</text>
<text transform="translate(327.65 218.20) scale(0.567 1)" font-size="8.4" font-weight="bold">Ostermontag</text>
<text transform="translate(422.80 116.65) scale(0.567 1)" font-size="8.4" font-weight="bold">Tag der Arbeit</text>
<text x="420.70" y="251.60" font-size="6.2" font-weight="bold" textLength="61.6" lengthAdjust="spacingAndGlyphs">Tag d. Befreiung v. Nationalsozialismus</text>
<text x="420.70" y="259.40" font-size="6.2" font-weight="bold" textLength="48.8" lengthAdjust="spacingAndGlyphs">u. Beendigung d. 2. Weltkrieges</text>
<text transform="translate(422.80 380.68) scale(0.567 1)" font-size="8.4" font-weight="bold">Christi Himmelfahrt</text>
<text transform="translate(422.80 583.78) scale(0.567 1)" font-size="8.4" font-weight="bold">Pfingstsonntag</text>
<text transform="translate(422.80 604.09) scale(0.567 1)" font-size="8.4" font-weight="bold">Pfingstmontag</text>
<text transform="translate(517.95 177.58) scale(0.567 1)" font-size="8.4" font-weight="bold">Fronleichnam</text>
<text transform="translate(517.95 380.68) scale(0.567 1)" font-size="8.4" font-weight="bold">Tag der offenen Tür</text>
<text transform="translate(805.80 116.65) scale(0.567 1)" font-size="8.4" font-weight="bold">Weltfriedenstag</text>
<text transform="translate(803.40 502.54) scale(0.567 1)" font-size="8.4" font-weight="bold">Landtagswahl</text>
<text transform="translate(898.55 157.27) scale(0.552 1)" font-size="8.4" font-weight="bold">Tag der Deutschen Einheit</text>
<text transform="translate(898.55 725.95) scale(0.567 1)" font-size="8.4" font-weight="bold">Reformationstag</text>
<text transform="translate(993.70 116.65) scale(0.567 1)" font-size="8.4" font-weight="bold">Allerheiligen</text>
<text transform="translate(993.70 136.96) scale(0.567 1)" font-size="8.4" font-weight="bold">Allerseelen</text>
<text transform="translate(993.70 400.99) scale(0.567 1)" font-size="8.4" font-weight="bold">Volkstrauertag</text>
<text transform="translate(993.70 461.92) scale(0.567 1)" font-size="8.4" font-weight="bold">Buß- und Bettag</text>
<text transform="translate(993.70 543.16) scale(0.567 1)" font-size="8.4" font-weight="bold">Totensonntag</text>
<text transform="translate(993.70 685.33) scale(0.567 1)" font-size="8.4" font-weight="bold">1. Advent</text>
<text transform="translate(1088.85 218.20) scale(0.567 1)" font-size="8.4" font-weight="bold">2. Advent</text>
<text transform="translate(1088.85 360.37) scale(0.567 1)" font-size="8.4" font-weight="bold">3. Advent</text>
<text transform="translate(1088.85 502.54) scale(0.567 1)" font-size="8.4" font-weight="bold">4. Advent</text>
<text transform="translate(1088.85 583.78) scale(0.567 1)" font-size="8.4" font-weight="bold">Heiligabend</text>
<text transform="translate(1088.85 604.09) scale(0.567 1)" font-size="8.4" font-weight="bold">1. Weihnachtstag</text>
<text transform="translate(1088.85 624.40) scale(0.567 1)" font-size="8.4" font-weight="bold">2. Weihnachtstag</text>
<text transform="translate(1088.85 725.95) scale(0.567 1)" font-size="8.4" font-weight="bold">Silvester</text>
</g>
<path d="M79.05 794.72A34.2 34.2 0 0 1 55.46 809.47M48.91 809.75A34.2 34.2 0 0 1 22.35 794.72M19.22 788.96A34.2 34.2 0 0 1 18.77 763.34M43.42 741.36A35.0 35.0 0 0 1 57.38 741.24M69.69 793.94A26.4 26.4 0 0 1 54.83 801.67M48.40 801.90A26.4 26.4 0 0 1 28.81 790.36M26.40 785.92A26.4 26.4 0 0 1 25.59 767.44M27.84 762.40A26.4 26.4 0 0 1 41.67 750.79M45.04 748.99A27.2 27.2 0 0 1 56.82 749.10M60.59 749.83A27.6 27.6 0 0 1 69.87 755.75M49.07 794.23A18.7 18.7 0 0 1 36.80 788.11M34.19 784.38A18.7 18.7 0 0 1 32.56 771.08M34.67 765.97A18.7 18.7 0 0 1 46.81 757.31" stroke="#d4ac2b" stroke-width="3.5" stroke-linecap="round" fill="none"/>
<text x="55.2" y="772.8" font-size="9" font-weight="bold" fill="#000" textLength="43" lengthAdjust="spacingAndGlyphs" stroke="#000" stroke-width=".5">LANDTAG</text>
<text x="55.2" y="783.7" font-size="8.4" font-weight="bold" fill="#000" textLength="104.6" lengthAdjust="spacingAndGlyphs" font-style="italic" stroke="#000" stroke-width=".4">Mecklenburg-Vorpommern</text>
<text x="183.4" y="766.2" font-size="13" fill="#000" textLength="169.6" lengthAdjust="spacingAndGlyphs">Schloss, Lennéstraße 1, 19053 Schwerin</text>
<text x="183.4" y="781.75" font-size="13" fill="#000" textLength="188.2" lengthAdjust="spacingAndGlyphs">Telefon: 0385/525-0, Telefax: 0385/5252121</text>
<text x="183.4" y="797.3000000000001" font-size="13" fill="#000" textLength="278.4" lengthAdjust="spacingAndGlyphs">E-Mail: poststelle@landtag-mv.de, Internet: www.landtag-mv.de</text>
<text x="491.2" y="797.4" font-size="13" fill="#000" textLength="115" lengthAdjust="spacingAndGlyphs">Stand: 24. September 2025</text>
<rect x="491.2" y="750" width="14.4" height="26.6" fill="#e30613"/>
<text x="512.0" y="759.1" font-size="10.2" fill="#000" textLength="54.6" lengthAdjust="spacingAndGlyphs">Sitzungswochen</text>
<text x="512.0" y="773.2" font-size="10.2" fill="#000" textLength="28.2" lengthAdjust="spacingAndGlyphs">Landtag</text>
<rect x="590.2" y="750" width="14.4" height="26.6" fill="#3f8a2e"/>
<text x="610.6" y="759.1" font-size="10.2" fill="#000" textLength="54.6" lengthAdjust="spacingAndGlyphs">Sitzungswochen</text>
<text x="610.6" y="773.2" font-size="10.2" fill="#000" textLength="68.4" lengthAdjust="spacingAndGlyphs">Landtagsausschüsse</text>
<rect x="700.2" y="750" width="14.4" height="26.6" fill="#d6e4b5"/>
<text x="721.7" y="758.5" font-size="10.2" fill="#000" textLength="119.6" lengthAdjust="spacingAndGlyphs">Für Veranstaltungen der Fraktionen,</text>
<text x="721.7" y="769.4" font-size="10.2" fill="#000" textLength="136.6" lengthAdjust="spacingAndGlyphs">die Wahlkreisarbeit und Sondersitzungen</text>
<text x="721.7" y="780.3" font-size="10.2" fill="#000" textLength="104.2" lengthAdjust="spacingAndGlyphs">der Ausschüsse reservierte Zeit.</text>
<rect x="880.0" y="750" width="14.4" height="26.6" fill="#ffed00"/>
<text x="900.9" y="759.1" font-size="10.2" fill="#000" textLength="54.8" lengthAdjust="spacingAndGlyphs">Tagungswochen</text>
<text x="900.9" y="773.2" font-size="10.2" fill="#000" textLength="72.2" lengthAdjust="spacingAndGlyphs">Deutscher Bundestag</text>
<rect x="992.0" y="750" width="14.4" height="26.6" fill="#8c392b"/>
<text x="1012.6" y="759.1" font-size="10.2" fill="#000" textLength="55.1" lengthAdjust="spacingAndGlyphs">Plenarsitzungen</text>
<text x="1012.6" y="773.2" font-size="10.2" fill="#000" textLength="34.7" lengthAdjust="spacingAndGlyphs">Bundesrat</text>
<rect x="1084.2" y="750" width="14.4" height="26.6" fill="#cfcfcf"/>
<text x="1105.7" y="759.1" font-size="10.2" fill="#000" textLength="43.7" lengthAdjust="spacingAndGlyphs">Sitzungsfreie</text>
<text x="1105.7" y="773.2" font-size="10.2" fill="#000" textLength="11.6" lengthAdjust="spacingAndGlyphs">Zeit</text>
</svg>
</body></html>
